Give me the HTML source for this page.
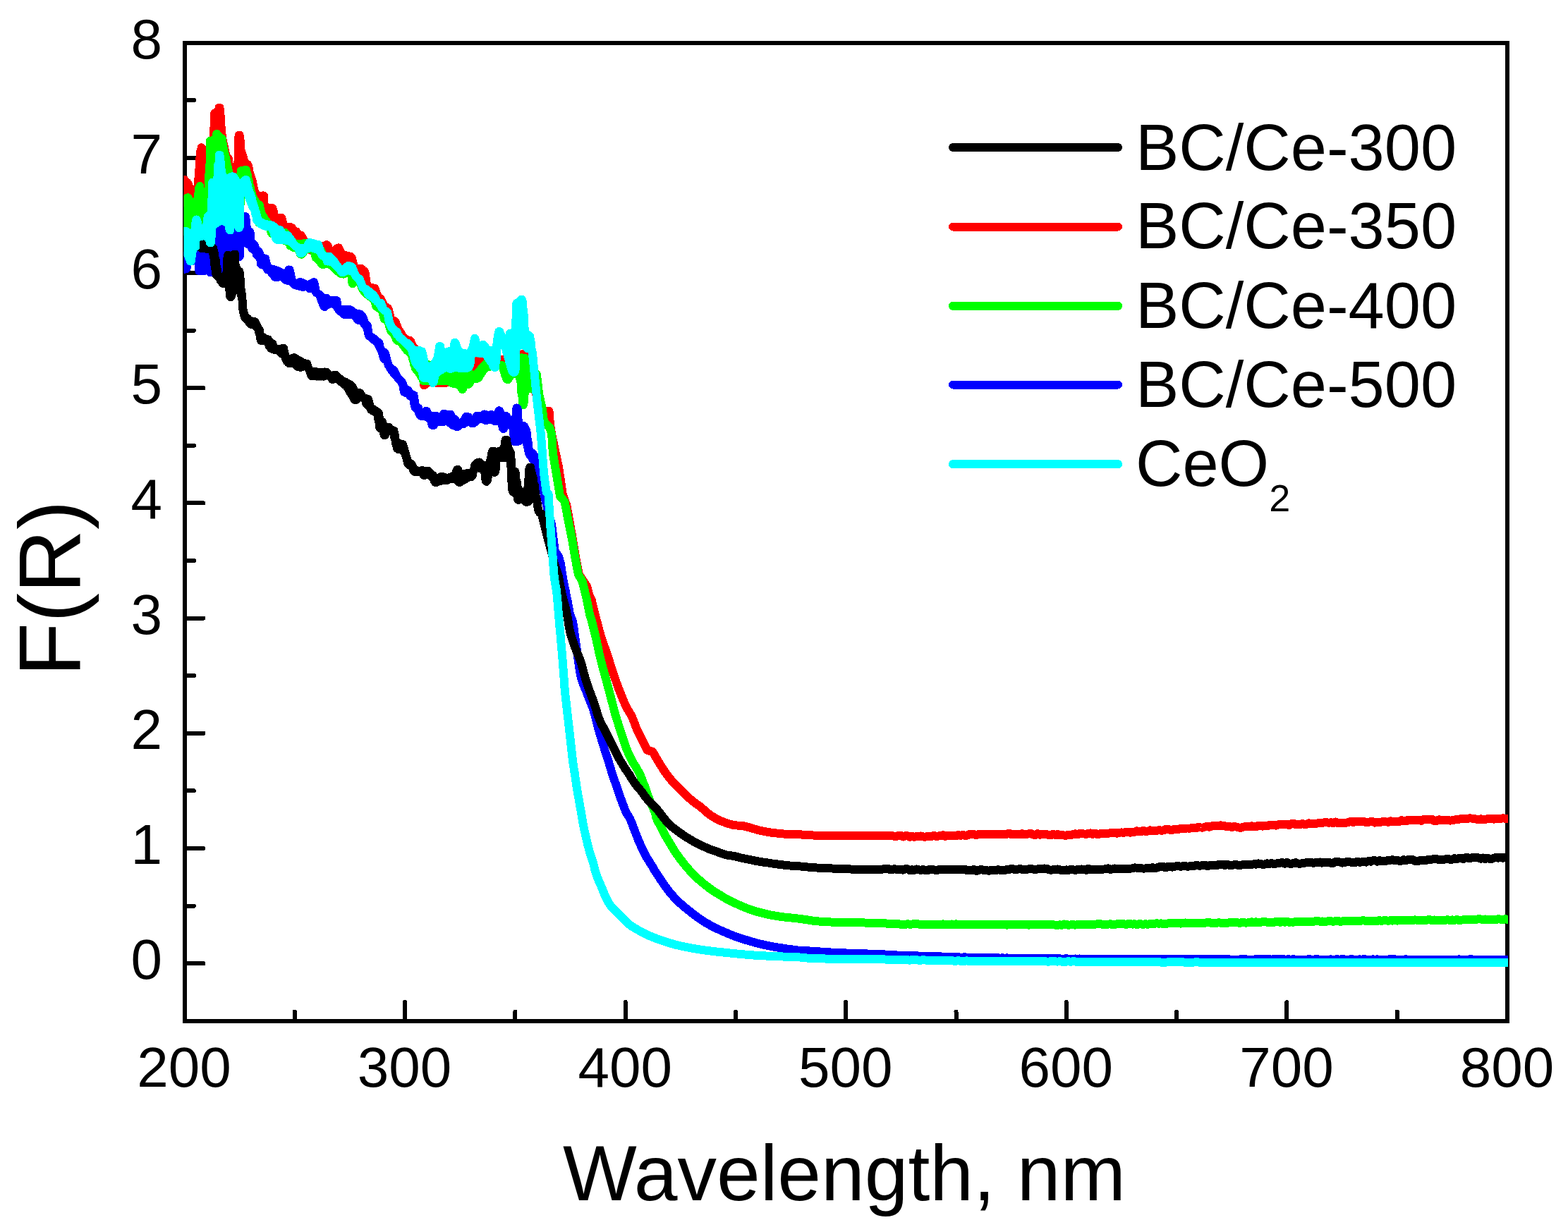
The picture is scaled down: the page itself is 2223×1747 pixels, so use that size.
<!DOCTYPE html>
<html lang="en">
<head>
<meta charset="utf-8">
<title>F(R) vs Wavelength</title>
<style>
html,body{margin:0;padding:0;background:#fff;}
body{width:2223px;height:1747px;overflow:hidden;}
svg{display:block;}
text{font-family:'Liberation Sans', Arial, Helvetica, sans-serif;fill:#000;}
.tick{font-size:80px;}
.leg{font-size:92px;}
.curve{fill:none;stroke-width:12;stroke-linejoin:round;stroke-linecap:round;shape-rendering:crispEdges;}
</style>
</head>
<body>
<svg width="2223" height="1747" viewBox="0 0 2223 1747">
<rect width="2223" height="1747" fill="#fff"/>
<defs><clipPath id="plot"><rect x="260.5" y="58" width="1877.5" height="1393"/></clipPath></defs>
<rect x="261.5" y="61.0" width="1875.5" height="1387.0" fill="none" stroke="#000" stroke-width="6" shape-rendering="crispEdges"/>
<path d="M417.8 1445.0V1434.5M574.1 1445.0V1421.0M730.4 1445.0V1434.5M886.7 1445.0V1421.0M1043.0 1445.0V1434.5M1199.2 1445.0V1421.0M1355.5 1445.0V1434.5M1511.8 1445.0V1421.0M1668.1 1445.0V1434.5M1824.4 1445.0V1421.0M1980.7 1445.0V1434.5M264.5 1366.2H288.5M264.5 1284.6H275.0M264.5 1203.0H288.5M264.5 1121.4H275.0M264.5 1039.8H288.5M264.5 958.2H275.0M264.5 876.6H288.5M264.5 795.0H275.0M264.5 713.4H288.5M264.5 631.8H275.0M264.5 550.2H288.5M264.5 468.6H275.0M264.5 387.0H288.5M264.5 305.4H275.0M264.5 223.8H288.5M264.5 142.2H275.0" fill="none" stroke="#000" stroke-width="6" stroke-linecap="round" shape-rendering="crispEdges"/>
<g clip-path="url(#plot)">
<path class="curve" stroke="#ff0000" d="M261.5 254.7L261.5 287.2L262.5 287.2L262.5 256.4L263.6 257.4L263.6 287.2L264.6 287.2L264.6 258.2L265.7 258.9L265.7 287.2L266.7 287.2L266.7 260.7L267.8 263.7L267.8 287.2L268.8 287.2L268.8 265.9L269.8 266.9L269.8 287.2L270.9 287.2L270.9 267.7L271.9 268.4L271.9 287.2L273.0 287.2L273.0 268.7L274.0 268.9L274.0 287.2L275.0 287.2L275.0 268.9L276.1 268.9L276.1 287.4L277.1 287.4L277.1 268.7L278.2 268.2L278.2 287.9L279.2 288.4L279.2 267.2L280.3 265.4L280.3 289.4L281.3 291.4L281.3 254.9L282.3 240.4L282.3 293.9L283.4 293.9L283.4 224.7L284.4 213.7L284.4 293.9L285.5 293.9L285.5 209.2L286.5 209.9L286.5 293.9L287.5 293.9L287.5 258.9L288.6 261.2L288.6 277.4L289.6 262.2L290.7 262.9L291.7 263.2L292.8 263.2L293.8 263.4L294.8 263.4L295.9 263.4L296.9 263.2L298.0 263.2L299.0 262.7L300.1 261.9L301.1 260.7L302.1 252.4L302.1 239.9L303.2 181.7L303.2 252.4L304.2 252.4L304.2 160.7L305.3 159.9L305.3 252.4L306.3 252.4L306.3 159.4L307.3 158.9L307.3 252.4L308.4 252.4L308.4 157.7L309.4 155.9L309.4 252.4L310.5 252.4L310.5 152.9L311.5 152.7L311.5 252.4L312.6 252.4L312.6 163.2L313.6 180.4L313.6 252.4L314.6 252.4L314.6 190.4L315.7 198.4L315.7 252.4L316.7 252.4L316.7 203.2L317.8 207.9L317.8 252.4L318.8 252.4L318.8 212.7L319.8 217.7L319.8 252.4L320.9 252.4L320.9 221.4L321.9 223.4L321.9 252.4L323.0 252.4L323.0 224.4L324.0 225.2L324.0 252.4L325.1 252.4L325.1 236.9L326.1 240.2L326.1 252.4L327.1 252.4L327.1 241.4L328.2 242.2L328.2 252.4L329.2 252.4L329.2 242.7L330.3 242.7L330.3 252.4L331.3 252.2L331.3 242.7L332.4 242.7L332.4 251.2L333.4 250.2L333.4 241.9L334.4 241.2L334.4 249.2L335.5 248.2L335.5 239.9L336.5 231.2L336.5 247.2L337.6 246.4L337.6 206.9L338.6 191.7L338.6 245.9L339.6 245.9L339.6 191.7L340.7 199.2L340.7 245.7L341.7 245.9L341.7 213.9L342.8 216.9L342.8 245.9L343.8 246.2L343.8 219.9L344.9 223.2L344.9 246.2L345.9 246.2L345.9 226.9L346.9 229.9L346.9 246.4L348.0 246.4L348.0 231.2L349.0 232.2L349.0 246.4L350.1 246.7L350.1 232.7L351.1 233.2L351.1 246.7L352.1 246.9L352.1 235.4L353.2 240.7L353.2 246.9L354.2 247.2L354.2 245.7L355.3 248.9L356.3 252.2L357.4 255.4L358.4 259.7L359.4 264.7L360.5 269.9L361.5 273.9L362.6 275.4L363.6 276.4L364.7 277.3L365.7 277.4L365.7 282.2L366.7 285.2L366.7 277.4L367.8 277.7L367.8 288.2L368.8 290.2L368.8 277.9L369.9 277.7L369.9 292.2L370.9 293.9L370.9 277.7L371.9 277.7L371.9 295.7L373.0 297.2L373.0 277.4L374.0 277.7L374.0 298.7L375.1 299.9L375.1 290.9L376.1 293.2L376.1 301.9L377.2 303.2L377.2 294.4L378.2 294.9L378.2 304.7L379.2 306.2L379.2 295.2L380.3 295.2L380.3 307.7L381.3 308.9L381.3 295.2L382.4 295.2L382.4 310.9L383.4 312.2L383.4 294.9L384.4 294.9L384.4 313.4L385.5 314.4L385.5 294.9L386.5 295.2L386.5 315.4L387.6 316.4L387.6 299.4L388.6 304.2L388.6 317.7L389.7 318.7L389.7 306.9L390.7 307.9L390.7 319.7L391.7 320.7L391.7 308.4L392.8 308.9L392.8 321.7L393.8 322.7L393.8 308.9L394.9 308.9L394.9 323.9L395.9 324.9L395.9 308.9L397.0 308.7L397.0 325.9L398.0 326.9L398.0 308.7L399.0 308.7L399.0 327.9L400.1 328.9L400.1 311.9L401.1 316.7L401.1 330.2L402.2 331.2L402.2 319.4L403.2 320.4L403.2 332.2L404.2 333.2L404.2 320.9L405.3 321.4L405.3 334.2L406.3 335.2L406.3 321.4L407.4 321.7L407.4 336.4L408.4 337.4L408.4 321.7L409.5 321.7L409.5 338.2L410.5 338.7L410.5 321.7L411.5 321.9L411.5 339.2L412.6 339.7L412.6 322.4L413.6 322.9L413.6 340.4L414.7 340.9L414.7 324.7L415.7 326.2L415.7 341.4L416.7 341.9L416.7 327.2L417.8 327.7L417.8 342.4L418.8 342.9L418.8 328.2L419.9 328.4L419.9 343.7L420.9 344.2L420.9 329.2L422.0 330.9L422.0 344.7L423.0 345.2L423.0 331.9L424.0 332.7L424.0 345.7L425.1 346.2L425.1 333.2L426.1 333.4L426.1 346.9L427.2 347.4L427.2 334.4L428.2 336.2L428.2 347.9L429.3 348.4L429.3 338.2L430.3 340.2L430.3 348.9L431.3 349.4L431.3 341.7L432.4 342.7L432.4 350.2L433.4 350.7L433.4 343.2L434.5 343.7L434.5 351.2L435.5 351.9L435.5 343.9L436.5 344.4L436.5 352.4L437.6 352.9L437.6 344.7L438.6 344.9L438.6 353.7L439.7 354.2L439.7 345.4L440.7 345.7L440.7 354.7L441.8 355.2L441.8 346.2L442.8 346.4L442.8 355.9L443.8 356.4L443.8 346.4L444.9 346.7L444.9 356.9L445.9 357.7L445.9 346.9L447.0 347.2L447.0 358.2L448.0 358.7L448.0 347.4L449.0 347.4L449.0 359.2L450.1 359.7L450.1 347.7L451.1 347.9L451.1 360.4L452.2 360.9L452.2 348.2L453.2 348.4L453.2 361.7L454.3 362.2L454.3 348.7L455.3 348.7L455.3 362.7L456.3 363.2L456.3 348.9L457.4 348.9L457.4 363.9L458.4 364.4L458.4 348.9L459.5 348.7L459.5 364.9L460.5 365.4L460.5 348.2L461.6 347.9L461.6 365.9L462.6 366.2L462.6 347.4L463.6 347.2L463.6 366.7L464.7 367.2L464.7 348.9L465.7 351.9L465.7 367.7L466.8 367.9L466.8 354.4L467.8 355.7L467.8 368.4L468.8 368.9L468.8 356.4L469.9 356.9L469.9 369.4L470.9 369.7L470.9 356.9L472.0 356.9L472.0 370.2L473.0 370.7L473.0 356.7L474.1 356.2L474.1 370.9L475.1 371.4L475.1 355.4L476.1 353.9L476.1 371.9L477.2 372.4L477.2 352.9L478.2 351.9L478.2 372.7L479.3 373.2L479.3 351.4L480.3 351.4L480.3 373.7L481.3 373.9L481.3 353.9L482.4 356.4L482.4 374.4L483.4 374.9L483.4 358.9L484.5 359.9L484.5 375.4L485.5 375.7L485.5 360.7L486.6 361.2L486.6 376.2L487.6 376.7L487.6 361.4L488.6 361.7L488.6 377.2L489.7 377.4L489.7 362.2L490.7 362.4L490.7 377.7L491.8 377.9L491.8 362.7L492.8 362.9L492.8 378.2L493.9 378.4L493.9 363.2L494.9 363.4L494.9 378.7L495.9 378.9L495.9 363.7L497.0 363.9L497.0 379.2L498.0 379.4L498.0 365.2L499.1 366.4L499.1 379.7L500.1 379.9L500.1 370.4L501.1 375.7L501.1 380.2L502.2 380.7L502.2 378.4L503.2 379.4L503.2 381.4L504.3 382.4L504.3 379.9L505.3 380.4L505.3 384.4L506.4 387.9L506.4 380.4L507.4 380.7L507.4 390.4L508.4 393.2L508.4 380.7L509.5 380.7L509.5 395.9L510.5 395.9L510.5 380.7L511.6 380.7L511.6 395.9L512.6 395.9L512.6 380.9L513.6 382.2L513.6 396.2L514.7 396.2L514.7 383.2L515.7 383.9L515.7 396.4L516.8 396.9L516.8 384.9L517.8 388.2L517.8 397.9L518.9 398.9L518.9 395.4L519.9 403.2L520.9 405.4L522.0 406.4L523.0 406.9L524.1 407.4L525.1 407.7L526.2 407.9L527.2 408.4L528.2 408.4L528.2 415.7L529.3 422.9L529.3 408.4L530.3 408.7L530.3 423.9L531.4 424.2L531.4 408.9L532.4 411.7L532.4 424.4L533.4 424.7L533.4 414.4L534.5 417.2L534.5 424.7L535.5 424.9L535.5 419.7L536.6 421.2L536.6 425.4L537.6 425.9L537.6 422.2L538.7 422.9L538.7 426.9L539.7 428.2L539.7 423.7L540.7 425.4L540.7 430.7L541.8 433.4L541.8 427.7L542.8 429.7L542.8 436.2L543.9 439.4L543.9 431.9L544.9 433.7L544.9 440.4L545.9 441.2L545.9 434.4L547.0 435.2L547.0 441.9L548.0 442.9L548.0 435.9L549.1 436.7L549.1 444.7L550.1 447.4L550.1 437.4L551.2 439.7L551.2 449.7L552.2 451.9L552.2 444.2L553.2 448.7L553.2 452.9L554.3 453.7L554.3 451.7L555.3 452.9L555.3 454.2L556.4 455.2L556.4 453.9L557.4 454.4L557.4 455.9L558.5 456.7L558.5 454.9L559.5 455.4L559.5 457.9L560.5 460.4L560.5 456.2L561.6 458.7L561.6 464.9L562.6 470.4L562.6 461.4L563.7 464.4L563.7 471.9L564.7 472.4L564.7 466.9L565.7 468.4L565.7 472.9L566.8 473.4L566.8 469.9L567.8 471.4L567.8 474.4L568.9 475.9L568.9 473.2L569.9 474.9L569.9 478.4L571.0 480.9L571.0 476.4L572.0 477.9L572.0 483.7L573.0 486.2L573.0 479.4L574.1 480.7L574.1 488.4L575.1 490.2L575.1 481.4L576.2 481.9L576.2 491.7L577.2 493.2L577.2 482.2L578.2 482.4L578.2 494.9L579.3 496.4L579.3 482.4L580.3 482.7L580.3 497.9L581.4 498.2L581.4 482.9L582.4 484.4L582.4 498.4L583.5 498.4L583.5 486.9L584.5 489.4L584.5 498.7L585.5 498.9L585.5 491.7L586.6 492.9L586.6 499.2L587.6 499.7L587.6 493.9L588.7 500.9L589.7 509.2L590.8 517.4L591.8 524.7L592.8 526.9L593.9 527.9L594.9 528.7L596.0 528.9L597.0 528.9L598.0 528.9L599.1 528.7L599.1 530.4L600.1 540.2L600.1 528.4L601.2 528.2L601.2 546.4L602.2 545.7L602.2 528.2L603.3 527.9L603.3 543.9L604.3 542.9L604.3 527.7L605.3 527.4L605.3 542.4L606.4 541.9L606.4 527.2L607.4 527.2L607.4 541.9L608.5 541.9L608.5 526.9L609.5 526.7L609.5 541.9L610.5 541.9L610.5 526.4L611.6 526.2L611.6 542.2L612.6 542.2L612.6 525.7L613.7 524.9L613.7 542.2L614.7 542.4L614.7 523.7L615.8 521.4L615.8 542.4L616.8 542.4L616.8 517.2L617.8 516.2L617.8 542.7L618.9 542.7L618.9 516.9L619.9 518.4L619.9 542.9L621.0 542.9L621.0 519.4L622.0 520.2L622.0 542.9L623.1 543.2L623.1 520.7L624.1 521.2L624.1 543.2L625.1 543.2L625.1 521.4L626.2 521.9L626.2 543.2L627.2 543.2L627.2 522.4L628.3 522.7L628.3 543.2L629.3 543.2L629.3 523.2L630.3 523.7L630.3 543.2L631.4 543.2L631.4 523.9L632.4 524.4L632.4 540.9L633.5 539.2L633.5 524.9L634.5 525.2L634.5 537.9L635.6 537.2L635.6 525.7L636.6 526.2L636.6 536.7L637.6 536.4L637.6 526.2L638.7 526.4L638.7 536.2L639.7 536.2L639.7 526.4L640.8 526.4L640.8 536.2L641.8 536.2L641.8 526.4L642.8 526.4L642.8 536.2L643.9 536.2L643.9 526.4L644.9 526.4L644.9 536.2L646.0 536.2L646.0 526.4L647.0 526.4L647.0 536.2L648.1 536.2L648.1 526.4L649.1 526.4L649.1 536.2L650.1 536.2L650.1 526.4L651.2 526.4L651.2 536.2L652.2 536.2L652.2 526.4L653.3 526.4L653.3 536.2L654.3 536.2L654.3 526.4L655.4 526.4L655.4 536.2L656.4 536.2L656.4 526.4L657.4 526.4L657.4 536.2L658.5 536.2L658.5 526.4L659.5 526.4L659.5 536.2L660.6 536.2L660.6 526.4L661.6 526.4L661.6 536.2L662.6 536.2L662.6 526.4L663.7 526.4L663.7 536.2L664.7 535.4L664.7 526.4L665.8 526.2L665.8 534.2L666.8 533.2L666.8 526.2L667.9 525.7L667.9 532.2L668.9 531.2L668.9 524.9L669.9 523.9L669.9 530.2L671.0 529.7L671.0 522.2L672.0 519.9L672.0 529.2L673.1 529.2L673.1 517.7L674.1 514.7L674.1 528.9L675.1 528.7L675.1 512.4L676.2 511.2L676.2 528.4L677.2 528.2L677.2 511.2L678.3 511.4L678.3 528.2L679.3 527.9L679.3 511.4L680.4 511.7L680.4 527.7L681.4 527.4L681.4 511.9L682.4 511.9L682.4 527.2L683.5 526.9L683.5 512.2L684.5 512.4L684.5 525.4L685.6 523.7L685.6 513.4L686.6 514.4L686.6 522.2L687.7 520.2L687.7 515.7L688.7 516.7L688.7 518.4L689.7 517.7L690.8 518.4L691.8 518.9L692.9 519.2L693.9 519.2L694.9 519.2L696.0 518.7L697.0 518.2L698.1 517.7L699.1 516.9L700.2 516.4L701.2 515.9L702.2 515.7L703.3 515.2L704.3 514.7L705.4 513.9L706.4 513.4L707.4 512.9L708.5 512.7L709.5 511.9L709.5 513.4L710.6 513.9L710.6 511.4L711.6 510.2L711.6 514.7L712.7 515.4L712.7 509.7L713.7 511.4L713.7 516.2L714.7 516.9L714.7 513.2L715.8 514.7L715.8 518.2L716.8 519.4L716.8 515.7L717.9 516.2L717.9 521.2L718.9 522.4L718.9 516.4L720.0 516.4L720.0 523.7L721.0 525.2L721.0 516.4L722.0 515.9L722.0 526.4L723.1 527.4L723.1 515.4L724.1 514.9L724.1 527.7L725.2 528.2L725.2 514.4L726.2 513.9L726.2 528.4L727.2 527.9L727.2 513.4L728.3 512.9L728.3 526.9L729.3 526.2L729.3 512.4L730.4 511.7L730.4 525.2L731.4 523.9L731.4 510.9L732.5 509.9L732.5 522.9L733.5 522.2L733.5 508.9L734.5 507.9L734.5 521.2L735.6 520.2L735.6 506.9L736.6 505.7L736.6 519.4L737.7 518.2L737.7 504.7L738.7 503.9L738.7 517.4L739.7 516.4L739.7 503.2L740.8 502.4L740.8 515.9L741.8 515.7L741.8 501.9L744.0 504.4L749.5 518.2L756.4 545.8L763.3 570.7L768.8 584.5L778.5 582.8L779.9 601.1L782.2 616.0L786.7 637.5L792.2 663.3L797.7 700.2L803.3 716.8L807.0 737.0L811.6 762.9L816.2 790.5L820.8 814.5L831.9 831.1L836.5 847.7L838.5 850.0L839.4 853.9L840.4 857.8L841.3 861.7L842.3 865.6L843.3 869.5L844.2 873.4L845.2 877.3L846.3 881.2L847.3 885.1L848.3 889.0L849.3 892.8L850.4 896.7L851.5 900.6L852.6 904.4L853.8 908.2L855.1 912.0L856.5 915.8L857.9 919.6L859.2 923.4L860.6 927.2L861.8 931.0L863.0 934.8L864.2 938.6L865.5 942.5L866.7 946.3L867.9 950.1L869.2 953.9L870.5 957.7L871.8 961.5L873.1 965.3L874.4 969.1L875.8 972.9L877.2 976.6L878.7 980.4L880.1 984.1L881.6 987.9L883.1 991.6L884.7 995.3L886.4 999.0L888.1 1002.6L890.0 1006.1L892.1 1009.6L894.1 1013.0L896.0 1016.6L897.5 1020.2L899.0 1024.0L900.4 1027.8L901.8 1031.5L903.4 1035.2L905.2 1038.8L907.0 1042.4L908.8 1046.0L910.6 1049.6L912.4 1053.1L914.2 1056.7L916.0 1060.3L917.8 1063.9L925.2 1065.8L932.6 1078.7L933.6 1080.0L935.7 1083.5L937.8 1087.0L940.0 1090.5L942.3 1093.9L944.7 1097.2L947.2 1100.5L949.7 1103.7L952.3 1106.9L955.1 1109.9L958.0 1112.8L960.9 1115.6L963.9 1118.5L966.8 1121.4L969.7 1124.3L972.5 1127.2L975.4 1130.1L978.4 1132.9L981.5 1135.6L984.8 1138.1L988.1 1140.5L991.4 1142.9L994.6 1145.4L997.8 1148.1L1000.9 1150.8L1004.0 1153.5L1007.2 1155.9L1010.7 1158.2L1014.2 1160.3L1017.8 1162.2L1021.5 1163.9L1025.4 1165.4L1029.2 1166.8L1033.1 1168.1L1037.0 1169.3L1041.0 1170.3L1052.5 1170.9L1056.4 1171.9L1060.4 1172.8L1064.3 1173.9L1068.2 1175.1L1072.1 1176.3L1076.0 1177.4L1079.9 1178.2L1083.9 1179.0L1087.9 1179.7L1091.9 1180.4L1095.9 1180.9L1100.0 1181.4L1104.0 1181.9L1108.0 1182.3L1112.1 1182.6L1116.1 1182.8L1120.2 1183.0L1124.3 1183.1L1128.3 1183.2L1132.4 1183.3L1136.4 1183.5L1140.5 1183.8L1144.5 1184.0L1148.6 1184.3L1152.6 1184.5L1156.7 1184.7L1160.7 1184.9L1164.8 1185.0L1168.8 1185.2L1172.9 1185.3L1177.0 1185.3L1181.0 1185.4L1185.1 1185.4L1189.1 1185.4L1193.2 1185.4L1197.2 1185.4L1201.3 1185.4L1205.4 1185.4L1209.4 1185.4L1213.5 1185.4L1217.5 1185.4L1221.6 1185.4L1225.7 1185.3L1229.7 1185.3L1233.8 1185.3L1237.8 1185.2L1241.9 1185.1L1245.9 1185.1L1250.0 1185.0L1258.6 1184.9L1261.8 1185.5L1264.9 1185.3L1268.0 1185.8L1271.1 1185.9L1274.3 1184.8L1277.4 1184.8L1280.5 1186.5L1283.6 1185.4L1286.8 1185.4L1289.9 1187.0L1293.0 1186.0L1296.1 1186.8L1299.3 1186.2L1302.4 1186.5L1305.5 1185.5L1308.6 1186.4L1311.8 1186.7L1314.9 1186.0L1318.0 1186.3L1321.1 1186.0L1324.3 1184.7L1327.4 1186.0L1330.5 1185.6L1333.6 1184.9L1336.8 1184.2L1339.9 1185.8L1343.0 1184.9L1346.2 1185.2L1349.3 1185.4L1352.4 1185.0L1355.5 1185.3L1358.7 1184.1L1361.8 1184.8L1364.9 1184.0L1368.0 1184.8L1371.2 1184.6L1374.3 1182.9L1377.4 1182.8L1380.5 1182.9L1383.7 1184.2L1386.8 1183.1L1389.9 1183.4L1393.0 1182.7L1396.2 1183.1L1399.3 1182.8L1402.4 1182.6L1405.5 1183.0L1408.7 1183.0L1411.8 1183.5L1414.9 1183.0L1418.0 1183.5L1421.2 1183.3L1424.3 1183.5L1427.4 1182.8L1430.5 1181.7L1433.7 1183.1L1436.8 1183.4L1439.9 1183.3L1443.1 1182.7L1446.2 1183.0L1449.3 1182.1L1452.4 1183.3L1455.6 1182.9L1458.7 1182.3L1461.8 1181.9L1464.9 1183.6L1468.1 1183.9L1471.2 1182.2L1474.3 1183.7L1477.4 1183.0L1480.6 1182.6L1483.7 1183.0L1486.8 1184.0L1489.9 1184.3L1493.1 1182.8L1496.2 1184.0L1499.3 1182.9L1502.4 1184.4L1505.6 1183.6L1508.7 1184.6L1511.8 1184.6L1514.9 1183.6L1518.1 1184.4L1521.2 1182.9L1524.3 1182.3L1527.4 1183.3L1530.6 1182.0L1533.7 1182.2L1536.8 1182.5L1540.0 1182.8L1543.1 1181.8L1546.2 1181.4L1549.3 1182.9L1552.5 1181.7L1555.6 1182.9L1558.7 1182.6L1561.8 1181.5L1565.0 1181.5L1568.1 1181.5L1571.2 1181.6L1574.3 1181.4L1577.5 1181.2L1580.6 1181.2L1583.7 1181.7L1586.8 1180.7L1590.0 1180.4L1593.1 1180.9L1596.2 1179.7L1599.3 1179.6L1602.5 1180.8L1605.6 1179.7L1608.7 1179.6L1611.8 1178.3L1615.0 1178.9L1618.1 1179.1L1621.2 1177.8L1624.3 1178.8L1627.5 1178.6L1630.6 1177.3L1633.7 1178.2L1636.9 1177.7L1640.0 1177.9L1643.1 1177.1L1646.2 1177.6L1649.4 1177.5L1652.5 1175.8L1655.6 1175.7L1658.7 1176.7L1661.9 1177.1L1665.0 1175.5L1668.1 1175.7L1671.2 1175.7L1674.4 1175.0L1677.5 1174.9L1680.6 1174.6L1683.7 1174.5L1686.9 1174.7L1690.0 1173.9L1693.1 1173.9L1696.2 1174.4L1699.4 1172.7L1702.5 1173.5L1705.6 1173.5L1708.7 1172.4L1711.9 1171.9L1715.0 1172.7L1718.1 1171.3L1721.2 1170.9L1724.4 1171.1L1727.5 1171.3L1730.6 1170.3L1733.8 1171.0L1736.9 1171.3L1740.0 1172.5L1743.1 1171.9L1746.3 1173.0L1749.4 1171.9L1752.5 1172.5L1755.6 1173.3L1758.8 1173.9L1761.9 1172.8L1765.0 1172.1L1768.1 1171.7L1771.3 1172.3L1774.4 1171.4L1777.5 1172.5L1780.6 1172.3L1783.8 1170.8L1786.9 1170.8L1790.0 1171.6L1793.1 1171.1L1796.3 1171.3L1799.4 1170.2L1802.5 1169.6L1805.6 1169.8L1808.8 1170.6L1811.9 1169.4L1815.0 1169.4L1818.1 1169.4L1821.3 1169.2L1824.4 1169.1L1827.5 1169.9L1830.7 1168.3L1833.8 1167.8L1836.9 1169.5L1840.0 1169.2L1843.2 1169.3L1846.3 1168.1L1849.4 1169.0L1852.5 1168.8L1855.7 1167.3L1858.8 1168.2L1861.9 1168.3L1865.0 1167.8L1868.2 1167.4L1871.3 1166.8L1874.4 1166.8L1877.5 1166.4L1880.7 1166.0L1883.8 1166.9L1886.9 1166.2L1890.0 1167.1L1893.2 1165.5L1896.3 1167.1L1899.4 1166.6L1902.5 1166.9L1905.7 1166.8L1908.8 1166.7L1911.9 1165.9L1915.0 1164.7L1918.2 1166.0L1921.3 1164.8L1924.4 1164.9L1927.6 1165.5L1930.7 1165.2L1933.8 1165.1L1936.9 1166.3L1940.1 1165.7L1943.2 1165.3L1946.3 1165.3L1949.4 1166.6L1952.6 1166.0L1955.7 1166.4L1958.8 1165.4L1961.9 1164.9L1965.1 1165.4L1968.2 1165.8L1971.3 1164.3L1974.4 1165.3L1977.6 1165.4L1980.7 1165.0L1983.8 1164.8L1986.9 1163.0L1990.1 1164.2L1993.2 1164.5L1996.3 1162.8L1999.4 1163.2L2002.6 1163.1L2005.7 1163.5L2008.8 1163.2L2011.9 1163.3L2015.1 1163.8L2018.2 1162.2L2021.3 1162.2L2024.5 1162.3L2027.6 1162.3L2030.7 1162.2L2033.8 1164.1L2037.0 1163.8L2040.1 1162.3L2043.2 1163.2L2046.3 1162.8L2049.5 1162.8L2052.6 1162.9L2055.7 1163.6L2058.8 1163.4L2062.0 1162.6L2065.1 1161.9L2068.2 1161.8L2071.3 1161.0L2074.5 1161.4L2077.6 1161.4L2080.7 1160.8L2083.8 1160.3L2087.0 1160.6L2090.1 1161.1L2093.2 1161.6L2096.3 1162.1L2099.5 1161.3L2102.6 1162.3L2105.7 1161.8L2108.8 1161.3L2112.0 1161.1L2115.1 1161.3L2118.2 1161.6L2121.4 1160.9L2124.5 1161.4L2127.6 1160.8L2130.7 1160.3L2133.9 1160.8L2137.0 1161.0"/>
<path class="curve" stroke="#00ff00" d="M261.5 283.9L261.5 328.4L262.5 328.4L262.5 283.4L263.6 282.9L263.6 328.4L264.6 328.4L264.6 281.7L265.7 280.4L265.7 328.4L266.7 328.4L266.7 280.4L267.8 282.7L267.8 328.4L268.8 328.4L268.8 284.7L269.8 286.4L269.8 328.4L270.9 328.4L270.9 287.7L271.9 288.7L271.9 328.4L273.0 328.4L273.0 289.2L274.0 289.2L274.0 328.4L275.0 328.4L275.0 289.2L276.1 288.9L276.1 328.4L277.1 328.4L277.1 288.4L278.2 287.4L278.2 328.4L279.2 328.4L279.2 286.2L280.3 281.7L280.3 328.4L281.3 328.4L281.3 275.4L282.3 266.2L282.3 328.4L283.4 328.4L283.4 263.9L284.4 288.9L284.4 328.4L285.5 328.4L285.5 290.7L286.5 291.7L286.5 328.4L287.5 328.4L287.5 292.2L288.6 292.4L288.6 328.4L289.6 328.4L289.6 292.4L290.7 292.4L290.7 328.4L291.7 301.7L291.7 292.2L292.8 291.7L292.8 296.7L293.8 295.4L293.8 290.9L294.8 289.7L294.8 294.7L295.9 294.2L295.9 262.7L296.9 234.9L296.9 294.2L298.0 293.9L298.0 199.7L299.0 199.7L299.0 293.9L300.1 293.9L300.1 199.4L301.1 199.2L301.1 293.9L302.1 293.9L302.1 198.9L303.2 198.4L303.2 293.9L304.2 293.9L304.2 197.9L305.3 196.9L305.3 293.9L306.3 293.9L306.3 194.7L307.3 189.9L307.3 293.9L308.4 293.9L308.4 191.2L309.4 192.9L309.4 293.9L310.5 293.9L310.5 193.7L311.5 194.4L311.5 293.9L312.6 293.9L312.6 195.2L313.6 195.9L313.6 293.9L314.6 293.9L314.6 196.4L315.7 203.7L315.7 293.9L316.7 293.9L316.7 209.9L317.8 214.7L317.8 293.9L318.8 293.9L318.8 218.9L319.8 223.4L319.8 293.9L320.9 293.9L320.9 227.7L321.9 233.2L321.9 293.9L323.0 293.9L323.0 237.4L324.0 243.4L324.0 293.9L325.1 293.9L325.1 247.2L326.1 248.4L326.1 293.9L327.1 293.9L327.1 249.2L328.2 249.9L328.2 293.9L329.2 293.9L329.2 250.7L330.3 251.2L330.3 293.9L331.3 293.9L331.3 251.9L332.4 252.7L332.4 293.9L333.4 293.9L333.4 253.2L334.4 253.4L334.4 293.9L335.5 293.9L335.5 253.4L336.5 253.4L336.5 293.9L337.6 293.9L337.6 252.9L338.6 252.4L338.6 293.9L339.6 293.9L339.6 250.9L340.7 248.2L340.7 289.9L341.7 271.9L341.7 242.2L342.8 242.2L342.8 269.7L343.8 268.7L343.8 242.2L344.9 241.9L344.9 268.2L345.9 267.7L345.9 241.7L346.9 241.2L346.9 267.7L348.0 267.7L348.0 240.9L349.0 241.2L349.0 268.2L350.1 268.7L350.1 245.2L351.1 249.2L351.1 270.2L352.1 272.7L352.1 254.2L353.2 258.9L353.2 275.9L354.2 278.9L354.2 263.7L355.3 268.4L355.3 282.2L356.3 285.2L356.3 272.2L357.4 275.2L357.4 288.7L358.4 290.7L358.4 278.9L359.4 281.2L359.4 292.7L360.5 294.7L360.5 282.9L361.5 284.7L361.5 297.7L362.6 302.7L362.6 286.4L363.6 287.9L363.6 308.9L364.7 311.4L364.7 289.2L365.7 289.7L365.7 313.4L366.7 315.4L366.7 290.2L367.8 290.7L367.8 316.4L368.8 316.9L368.8 295.9L369.9 300.2L369.9 317.7L370.9 318.2L370.9 302.9L371.9 304.9L371.9 318.7L373.0 319.2L373.0 306.9L374.0 308.9L374.0 319.4L375.1 319.4L375.1 310.4L376.1 311.7L376.1 319.7L377.2 319.9L377.2 313.4L378.2 314.7L378.2 320.2L379.2 320.2L379.2 316.2L380.3 317.4L380.3 320.7L381.3 321.2L381.3 318.7L382.4 319.9L382.4 322.4L383.4 324.4L383.4 321.4L384.4 322.7L384.4 328.9L385.5 331.2L385.5 323.7L386.5 324.2L386.5 331.4L387.6 331.7L387.6 324.7L388.6 325.2L388.6 332.4L389.7 333.4L389.7 325.9L390.7 326.7L390.7 334.7L391.7 337.9L391.7 327.2L392.8 327.7L392.8 338.9L393.8 339.2L393.8 328.2L394.9 328.4L394.9 339.4L395.9 339.7L395.9 328.7L397.0 328.9L397.0 339.7L398.0 339.9L398.0 329.2L399.0 329.4L399.0 340.2L400.1 340.2L400.1 329.7L401.1 329.7L401.1 340.4L402.2 340.7L402.2 329.7L403.2 329.7L403.2 340.7L404.2 340.9L404.2 329.7L405.3 331.2L405.3 340.9L406.3 341.4L406.3 332.7L407.4 334.4L407.4 341.9L408.4 342.9L408.4 336.2L409.5 337.9L409.5 344.2L410.5 346.2L410.5 339.4L411.5 340.9L411.5 348.4L412.6 348.9L412.6 342.2L413.6 342.9L413.6 349.4L414.7 349.9L414.7 343.4L415.7 343.9L415.7 350.7L416.7 351.2L416.7 344.4L417.8 344.9L417.8 351.2L418.8 351.2L418.8 345.4L419.9 345.9L419.9 351.4L420.9 351.9L420.9 346.2L422.0 346.4L422.0 352.7L423.0 353.9L423.0 346.2L424.0 346.2L424.0 355.7L425.1 357.7L425.1 345.9L426.1 345.9L426.1 360.4L427.2 360.7L427.2 345.9L428.2 345.7L428.2 359.9L429.3 358.7L429.3 345.7L430.3 345.4L430.3 357.2L431.3 355.7L431.3 345.4L432.4 345.2L432.4 354.7L433.4 354.2L433.4 345.2L434.5 345.4L434.5 353.7L435.5 353.4L435.5 345.9L436.5 346.2L436.5 353.4L437.6 353.2L437.6 346.2L438.6 346.2L438.6 352.9L439.7 352.7L439.7 345.9L440.7 345.4L440.7 352.7L441.8 352.7L441.8 345.2L442.8 345.9L442.8 353.2L443.8 353.9L443.8 347.2L444.9 348.2L444.9 355.4L445.9 358.4L445.9 348.9L447.0 349.4L447.0 362.4L448.0 365.7L448.0 349.9L449.0 350.7L449.0 366.4L450.1 367.4L450.1 351.2L451.1 351.7L451.1 368.2L452.2 369.2L452.2 352.4L453.2 352.9L453.2 370.4L454.3 371.7L454.3 354.2L455.3 355.9L455.3 373.2L456.3 374.7L456.3 357.7L457.4 359.7L457.4 374.9L458.4 374.7L458.4 361.7L459.5 362.9L459.5 374.7L460.5 374.4L460.5 363.9L461.6 364.7L461.6 374.4L462.6 374.4L462.6 365.4L463.6 366.2L463.6 374.4L464.7 374.4L464.7 367.4L465.7 368.2L465.7 374.4L466.8 374.7L466.8 369.2L467.8 370.2L467.8 374.7L468.8 374.9L468.8 371.2L469.9 372.2L469.9 375.7L470.9 376.7L470.9 373.4L472.0 374.4L472.0 377.7L473.0 378.7L473.0 375.7L474.1 376.9L474.1 379.7L475.1 380.9L475.1 378.2L476.1 379.7L476.1 382.2L477.2 383.2L477.2 381.2L478.2 382.7L478.2 384.2L479.3 384.9L479.3 383.9L480.3 385.4L481.3 386.4L482.4 387.3L483.4 388.1L484.5 388.3L485.5 388.3L486.6 387.7L486.6 388.7L487.6 388.4L487.6 387.2L488.6 386.4L488.6 387.7L489.7 386.9L489.7 385.4L490.7 384.7L490.7 386.4L491.8 386.2L491.8 383.9L492.8 383.2L492.8 386.2L493.9 386.2L493.9 382.4L494.9 382.4L494.9 386.7L495.9 387.2L495.9 382.9L497.0 383.4L497.0 388.2L498.0 390.4L498.0 383.7L499.1 384.2L499.1 399.7L500.1 402.4L500.1 386.7L501.1 389.2L501.1 399.9L502.2 398.4L502.2 392.4L503.2 394.9L503.2 397.7L504.3 397.1L505.3 397.2L506.4 397.2L507.4 397.4L508.4 397.9L509.5 398.9L510.5 400.4L511.6 403.2L512.6 406.4L513.6 408.9L514.7 410.9L515.7 412.2L516.8 413.4L517.8 414.7L518.9 416.1L519.9 416.8L520.9 417.6L522.0 418.3L523.0 419.1L524.1 419.8L525.1 420.7L526.2 421.6L527.2 422.3L528.2 423.1L529.3 423.8L530.3 424.9L531.4 427.3L532.4 429.2L532.4 431.2L533.4 434.4L533.4 430.7L534.5 432.4L534.5 435.2L535.5 435.9L535.5 433.7L536.6 434.4L536.6 436.7L537.6 437.4L537.6 434.9L538.7 435.2L538.7 438.2L539.7 438.9L539.7 435.2L540.7 435.9L540.7 439.7L541.8 440.9L541.8 439.2L542.8 442.4L542.8 444.2L543.9 449.7L543.9 444.4L544.9 445.7L544.9 452.4L545.9 452.9L545.9 446.2L547.0 446.9L547.0 453.4L548.0 453.9L548.0 447.4L549.1 448.2L549.1 454.7L550.1 456.4L550.1 452.2L551.2 459.4L552.2 462.9L553.2 465.9L554.3 469.4L554.3 468.2L555.3 470.4L556.4 471.7L557.4 472.7L558.5 473.6L559.5 473.9L559.5 475.2L560.5 477.4L560.5 474.9L561.6 475.7L561.6 480.4L562.6 482.4L562.6 476.4L563.7 478.9L563.7 482.9L564.7 483.4L564.7 480.7L565.7 482.7L565.7 483.7L566.8 484.1L567.8 484.7L568.9 485.8L569.9 487.2L571.0 488.7L571.0 487.7L572.0 488.7L572.0 490.2L573.0 491.4L573.0 489.7L574.1 490.4L574.1 492.9L575.1 494.7L575.1 491.2L576.2 491.7L576.2 495.9L577.2 496.9L577.2 491.9L578.2 492.4L578.2 497.7L579.3 498.7L579.3 493.2L580.3 494.7L580.3 499.7L581.4 500.9L581.4 495.9L582.4 497.7L582.4 501.9L583.5 503.4L583.5 498.9L584.5 500.2L584.5 506.7L585.5 510.4L585.5 501.7L586.6 503.2L586.6 513.9L587.6 518.2L587.6 504.7L588.7 506.7L588.7 521.9L589.7 523.4L589.7 508.2L590.8 509.7L590.8 524.7L591.8 525.9L591.8 510.9L592.8 511.7L592.8 527.2L593.9 528.7L593.9 512.2L594.9 512.7L594.9 529.9L596.0 531.4L596.0 513.2L597.0 513.4L597.0 533.4L598.0 535.2L598.0 513.9L599.1 514.2L599.1 537.2L600.1 539.9L600.1 514.7L601.2 515.2L601.2 539.9L602.2 539.9L602.2 515.4L603.3 515.9L603.3 539.9L604.3 539.9L604.3 516.2L605.3 516.7L605.3 539.9L606.4 539.9L606.4 516.9L607.4 517.4L607.4 539.9L608.5 539.9L608.5 517.7L609.5 518.2L609.5 539.9L610.5 539.9L610.5 518.4L611.6 518.9L611.6 539.9L612.6 539.9L612.6 519.2L613.7 519.7L613.7 539.9L614.7 539.9L614.7 520.2L615.8 520.4L615.8 539.9L616.8 539.9L616.8 520.9L617.8 521.2L617.8 539.9L618.9 539.9L618.9 521.7L619.9 521.9L619.9 539.9L621.0 539.9L621.0 522.4L622.0 522.7L622.0 539.9L623.1 539.9L623.1 523.2L624.1 523.4L624.1 539.9L625.1 539.9L625.1 523.9L626.2 524.4L626.2 539.9L627.2 539.9L627.2 524.7L628.3 525.2L628.3 539.9L629.3 539.9L629.3 525.4L630.3 525.9L630.3 539.9L631.4 539.9L631.4 526.2L632.4 526.2L632.4 539.9L633.5 539.9L633.5 526.4L634.5 526.4L634.5 540.2L635.6 540.2L635.6 526.4L636.6 526.4L636.6 540.7L637.6 541.4L637.6 526.4L638.7 526.4L638.7 542.2L639.7 542.9L639.7 526.4L640.8 526.4L640.8 543.2L641.8 543.4L641.8 526.4L642.8 526.4L642.8 543.7L643.9 543.9L643.9 526.4L644.9 526.4L644.9 544.2L646.0 544.4L646.0 526.7L647.0 526.9L647.0 544.7L648.1 544.9L648.1 526.9L649.1 527.2L649.1 545.2L650.1 545.7L650.1 527.4L651.2 527.7L651.2 546.2L652.2 546.9L652.2 527.9L653.3 528.2L653.3 547.9L654.3 550.2L654.3 528.4L655.4 528.4L655.4 552.2L656.4 550.4L656.4 528.7L657.4 528.9L657.4 547.4L658.5 546.4L658.5 529.2L659.5 529.4L659.5 545.7L660.6 545.2L660.6 529.7L661.6 529.9L661.6 544.9L662.6 544.9L662.6 529.9L663.7 530.2L663.7 544.7L664.7 544.7L664.7 530.4L665.8 530.7L665.8 542.9L666.8 540.4L666.8 530.9L667.9 530.9L667.9 539.2L668.9 538.2L668.9 531.2L669.9 531.4L669.9 537.7L671.0 537.2L671.0 531.7L672.0 531.7L672.0 537.2L673.1 536.9L673.1 531.7L674.1 531.4L674.1 536.9L675.1 536.7L675.1 530.9L676.2 530.2L676.2 536.7L677.2 536.4L677.2 529.2L678.3 527.9L678.3 535.9L679.3 534.2L679.3 526.7L680.4 525.2L680.4 532.4L681.4 530.4L681.4 524.2L682.4 522.9L682.4 528.9L683.5 527.4L683.5 521.9L684.5 520.9L684.5 525.9L685.6 524.4L685.6 519.9L686.6 518.4L686.6 522.9L687.7 521.7L687.7 517.4L688.7 516.4L688.7 521.2L689.7 520.9L689.7 515.4L690.8 515.9L690.8 520.7L691.8 520.4L691.8 516.7L692.9 517.4L692.9 520.2L693.9 519.9L693.9 518.4L694.9 519.4L696.0 519.4L697.0 519.4L698.1 519.2L699.1 518.9L700.2 518.7L701.2 518.7L702.2 518.4L703.3 518.4L704.3 518.4L705.4 518.2L706.4 518.2L707.4 518.2L708.5 518.2L709.5 518.2L710.6 518.7L711.6 518.4L711.6 519.4L712.7 520.7L712.7 518.4L713.7 518.9L713.7 522.9L714.7 526.9L714.7 519.4L715.8 520.7L715.8 530.9L716.8 533.4L716.8 523.4L717.9 524.7L717.9 535.9L718.9 537.9L718.9 525.7L720.0 526.2L720.0 538.4L721.0 537.2L721.0 526.2L722.0 526.4L722.0 535.4L723.1 533.7L723.1 526.4L724.1 526.4L724.1 532.2L725.2 531.2L725.2 526.4L726.2 526.4L726.2 530.7L727.2 530.2L727.2 526.2L728.3 525.9L728.3 529.9L729.3 529.7L729.3 525.4L730.4 524.4L730.4 529.4L731.4 529.2L731.4 522.9L732.5 520.9L732.5 529.2L733.5 529.4L733.5 518.9L734.5 516.9L734.5 529.9L735.6 530.7L735.6 514.9L736.6 512.4L736.6 532.7L737.7 539.7L737.7 510.4L738.7 507.4L738.7 549.7L739.7 559.7L739.7 507.4L740.8 507.9L740.8 567.2L741.8 574.2L741.8 507.9L742.9 507.9L742.9 570.4L743.9 552.4L743.9 507.9L745.0 510.7L745.0 551.2L746.0 550.4L746.0 519.4L747.0 528.7L747.0 549.9L748.1 549.7L748.1 536.9L749.1 539.2L749.1 549.7L750.2 549.9L750.2 540.4L751.2 540.9L751.2 550.4L752.3 551.2L752.3 541.2L760.8 530.6L764.3 559.6L768.4 577.6L771.2 598.3L779.5 606.6L782.2 616.0L783.9 643.0L788.5 670.7L794.1 703.8L800.5 711.2L805.1 735.2L810.7 762.9L815.3 790.5L819.9 814.5L825.4 823.7L830.9 845.8L836.5 873.5L838.2 877.7L839.2 881.5L840.1 885.4L841.1 889.3L842.1 893.2L843.0 897.1L844.0 901.0L844.9 904.9L845.8 908.8L846.6 912.7L847.5 916.7L848.3 920.6L849.1 924.5L850.0 928.4L850.9 932.3L851.9 936.2L852.9 940.1L853.9 944.0L854.9 947.9L856.0 951.7L857.1 955.6L858.1 959.5L859.2 963.3L860.2 967.2L861.2 971.1L862.3 975.0L863.3 978.8L864.3 982.7L865.4 986.6L866.4 990.5L867.4 994.4L868.4 998.2L869.4 1002.1L870.4 1006.0L871.5 1009.9L872.5 1013.7L873.7 1017.6L874.8 1021.4L876.1 1025.2L877.3 1029.0L878.6 1032.9L879.8 1036.7L881.1 1040.5L882.3 1044.3L883.5 1048.1L884.7 1052.0L886.0 1055.8L887.3 1059.5L888.8 1063.3L890.4 1067.0L892.0 1070.6L893.8 1074.2L895.6 1077.8L897.5 1081.3L899.6 1084.7L901.8 1088.1L903.8 1091.6L905.7 1095.1L907.5 1098.7L909.1 1102.4L910.5 1106.1L912.0 1109.9L913.5 1113.6L915.0 1117.3L916.3 1121.1L917.6 1124.9L918.9 1128.7L920.2 1132.5L921.6 1136.2L923.3 1139.9L925.0 1143.5L926.6 1147.2L928.1 1150.9L929.3 1154.7L930.2 1158.7L931.5 1162.4L933.3 1166.0L935.3 1169.5L937.1 1173.1L938.9 1176.7L940.7 1180.3L942.6 1183.8L944.6 1187.3L946.7 1190.7L948.8 1194.1L950.8 1197.6L952.9 1201.0L954.9 1204.5L957.1 1207.8L959.4 1211.2L961.7 1214.4L964.1 1217.7L966.5 1220.8L969.0 1224.0L971.5 1227.1L974.1 1230.1L976.7 1233.2L979.4 1236.2L982.1 1239.1L985.0 1242.0L987.9 1244.7L990.9 1247.4L994.0 1250.0L997.0 1252.6L1000.1 1255.1L1003.3 1257.6L1006.5 1260.0L1009.8 1262.3L1013.1 1264.5L1016.5 1266.6L1019.9 1268.7L1023.3 1270.8L1026.8 1272.9L1030.3 1274.9L1033.8 1276.7L1037.4 1278.5L1041.1 1280.2L1044.7 1281.9L1048.4 1283.6L1052.0 1285.2L1055.7 1286.7L1059.4 1288.2L1063.2 1289.7L1067.0 1290.9L1070.8 1292.1L1074.7 1293.2L1078.6 1294.2L1082.5 1295.2L1086.4 1296.1L1090.3 1297.0L1094.2 1297.8L1098.2 1298.5L1102.1 1299.2L1106.1 1299.8L1110.1 1300.3L1114.0 1300.7L1118.0 1301.1L1122.0 1301.5L1126.0 1301.9L1130.0 1302.4L1134.0 1302.9L1138.0 1303.4L1141.9 1304.0L1145.9 1304.6L1149.9 1305.2L1153.8 1305.8L1157.8 1306.2L1161.8 1306.6L1165.8 1306.9L1169.8 1307.1L1173.8 1307.3L1177.8 1307.5L1181.8 1307.6L1185.8 1307.8L1189.9 1307.9L1193.9 1308.0L1197.9 1308.0L1201.9 1308.1L1205.9 1308.2L1209.9 1308.2L1213.9 1308.3L1217.9 1308.4L1221.9 1308.4L1225.9 1308.5L1230.0 1308.5L1234.0 1308.6L1238.0 1308.6L1242.0 1308.7L1246.0 1308.7L1250.0 1308.7L1258.6 1309.8L1261.8 1309.7L1264.9 1310.1L1268.0 1309.9L1271.1 1309.8L1274.3 1310.3L1277.4 1311.0L1280.5 1310.9L1283.6 1310.9L1286.8 1310.3L1289.9 1310.8L1293.0 1310.5L1296.1 1310.4L1299.3 1310.3L1302.4 1310.5L1305.5 1311.3L1308.6 1311.2L1311.8 1311.2L1314.9 1311.2L1318.0 1310.5L1321.1 1310.6L1324.3 1311.0L1327.4 1311.1L1330.5 1311.3L1333.6 1311.3L1336.8 1310.4L1339.9 1311.0L1343.0 1311.1L1346.2 1310.9L1349.3 1310.5L1352.4 1310.9L1355.5 1310.4L1358.7 1311.5L1361.8 1311.4L1364.9 1311.0L1368.0 1310.7L1371.2 1311.5L1374.3 1311.1L1377.4 1311.4L1380.5 1311.4L1383.7 1311.0L1386.8 1310.9L1389.9 1311.1L1393.0 1310.9L1396.2 1310.6L1399.3 1310.8L1402.4 1311.4L1405.5 1310.5L1408.7 1310.5L1411.8 1311.2L1414.9 1310.8L1418.0 1311.1L1421.2 1311.1L1424.3 1310.9L1427.4 1311.7L1430.5 1310.7L1433.7 1311.0L1436.8 1310.8L1439.9 1311.3L1443.1 1310.9L1446.2 1311.0L1449.3 1311.5L1452.4 1311.0L1455.6 1311.2L1458.7 1311.7L1461.8 1310.7L1464.9 1310.7L1468.1 1310.9L1471.2 1311.5L1474.3 1311.4L1477.4 1310.9L1480.6 1311.0L1483.7 1310.8L1486.8 1311.1L1489.9 1310.6L1493.1 1311.4L1496.2 1311.6L1499.3 1311.7L1502.4 1311.4L1505.6 1311.7L1508.7 1310.5L1511.8 1310.9L1514.9 1311.7L1518.1 1311.4L1521.2 1311.0L1524.3 1311.6L1527.4 1311.2L1530.6 1311.4L1533.7 1310.8L1536.8 1310.7L1540.0 1310.9L1543.1 1310.6L1546.2 1310.8L1549.3 1311.5L1552.5 1310.7L1555.6 1310.3L1558.7 1310.4L1561.8 1310.5L1565.0 1311.2L1568.1 1310.7L1571.2 1310.6L1574.3 1310.3L1577.5 1311.4L1580.6 1310.7L1583.7 1310.4L1586.8 1310.2L1590.0 1310.2L1593.1 1310.3L1596.2 1310.9L1599.3 1310.2L1602.5 1310.1L1605.6 1310.6L1608.7 1310.3L1611.8 1311.2L1615.0 1310.1L1618.1 1310.5L1621.2 1310.7L1624.3 1310.2L1627.5 1310.8L1630.6 1310.1L1633.7 1309.7L1636.9 1309.9L1640.0 1309.3L1643.1 1309.7L1646.2 1309.4L1649.4 1310.1L1652.5 1310.0L1655.6 1309.5L1658.7 1308.9L1661.9 1309.1L1665.0 1309.0L1668.1 1308.9L1671.2 1308.9L1674.4 1309.6L1677.5 1308.7L1680.6 1308.5L1683.7 1309.5L1686.9 1309.0L1690.0 1309.5L1693.1 1308.7L1696.2 1309.2L1699.4 1308.9L1702.5 1309.0L1705.6 1308.9L1708.7 1308.6L1711.9 1308.1L1715.0 1308.2L1718.1 1309.0L1721.2 1309.0L1724.4 1309.0L1727.5 1308.2L1730.6 1308.6L1733.8 1308.7L1736.9 1308.5L1740.0 1308.7L1743.1 1308.3L1746.3 1308.4L1749.4 1308.4L1752.5 1307.9L1755.6 1308.6L1758.8 1308.6L1761.9 1307.5L1765.0 1308.5L1768.1 1308.5L1771.3 1308.1L1774.4 1307.3L1777.5 1308.2L1780.6 1307.3L1783.8 1308.2L1786.9 1307.8L1790.0 1307.1L1793.1 1307.1L1796.3 1307.7L1799.4 1307.6L1802.5 1307.7L1805.6 1307.9L1808.8 1307.0L1811.9 1306.8L1815.0 1307.8L1818.1 1306.7L1821.3 1307.7L1824.4 1306.8L1827.5 1307.6L1830.7 1307.5L1833.8 1307.6L1836.9 1307.2L1840.0 1307.5L1843.2 1306.7L1846.3 1307.2L1849.4 1306.7L1852.5 1307.3L1855.7 1307.2L1858.8 1306.7L1861.9 1306.8L1865.0 1306.1L1868.2 1306.1L1871.3 1306.7L1874.4 1306.5L1877.5 1306.9L1880.7 1306.6L1883.8 1306.0L1886.9 1306.2L1890.0 1306.7L1893.2 1306.3L1896.3 1305.7L1899.4 1306.6L1902.5 1306.6L1905.7 1305.7L1908.8 1306.2L1911.9 1306.0L1915.0 1306.4L1918.2 1305.8L1921.3 1305.7L1924.4 1306.0L1927.6 1306.5L1930.7 1305.4L1933.8 1305.4L1936.9 1306.0L1940.1 1306.2L1943.2 1305.8L1946.3 1305.6L1949.4 1306.1L1952.6 1305.9L1955.7 1305.0L1958.8 1306.0L1961.9 1305.1L1965.1 1305.2L1968.2 1305.8L1971.3 1305.2L1974.4 1305.6L1977.6 1304.8L1980.7 1305.6L1983.8 1304.8L1986.9 1304.7L1990.1 1305.1L1993.2 1304.9L1996.3 1305.1L1999.4 1305.5L2002.6 1305.2L2005.7 1304.4L2008.8 1304.7L2011.9 1304.9L2015.1 1304.8L2018.2 1305.1L2021.3 1304.8L2024.5 1304.3L2027.6 1304.4L2030.7 1305.1L2033.8 1304.5L2037.0 1305.0L2040.1 1305.2L2043.2 1304.7L2046.3 1304.8L2049.5 1304.6L2052.6 1304.3L2055.7 1304.9L2058.8 1304.4L2062.0 1304.9L2065.1 1304.1L2068.2 1304.8L2071.3 1304.6L2074.5 1304.4L2077.6 1304.1L2080.7 1303.7L2083.8 1304.4L2087.0 1303.9L2090.1 1304.2L2093.2 1303.6L2096.3 1303.4L2099.5 1303.5L2102.6 1304.2L2105.7 1303.5L2108.8 1304.3L2112.0 1303.7L2115.1 1303.9L2118.2 1303.6L2121.4 1303.9L2124.5 1303.2L2127.6 1303.6L2130.7 1304.2L2133.9 1303.3L2137.0 1303.8"/>
<path class="curve" stroke="#0000ff" d="M261.5 362.7L261.5 381.5L262.5 381.5L262.5 364.0L263.6 365.5L263.6 381.5L264.6 380.2L264.6 366.7L265.7 368.5L265.7 372.0L266.7 370.7L266.7 369.5L267.8 370.2L268.8 370.2L269.8 370.2L270.9 370.1L271.9 370.1L273.0 369.8L274.0 369.5L275.0 368.8L276.1 366.5L276.1 369.2L277.1 369.2L277.1 363.0L278.2 360.2L278.2 369.7L279.2 370.2L279.2 357.5L280.3 354.7L280.3 371.2L281.3 373.5L281.3 352.0L282.3 349.2L282.3 384.2L283.4 384.2L283.4 346.0L284.4 343.5L284.4 384.2L285.5 384.2L285.5 341.0L286.5 338.5L286.5 384.2L287.5 384.2L287.5 336.2L288.6 335.2L288.6 384.2L289.6 384.0L289.6 334.2L290.7 333.5L290.7 383.5L291.7 383.0L291.7 332.5L292.8 331.7L292.8 383.0L293.8 383.0L293.8 330.7L294.8 330.0L294.8 383.2L295.9 384.0L295.9 328.7L296.9 328.0L296.9 385.0L298.0 386.2L298.0 327.0L299.0 326.2L299.0 386.2L300.1 386.2L300.1 325.5L301.1 324.5L301.1 386.2L302.1 386.5L302.1 323.5L303.2 322.5L303.2 386.5L304.2 386.7L304.2 321.7L305.3 320.7L305.3 387.0L306.3 387.2L306.3 320.0L307.3 319.0L307.3 387.5L308.4 387.7L308.4 318.7L309.4 318.5L309.4 388.0L310.5 388.0L310.5 318.5L311.5 318.2L311.5 388.2L312.6 388.2L312.6 318.0L313.6 318.0L313.6 378.2L314.6 367.2L314.6 317.7L315.7 317.5L315.7 365.2L316.7 364.5L316.7 317.2L317.8 317.2L317.8 364.0L318.8 363.7L318.8 317.0L319.8 316.7L319.8 363.5L320.9 363.5L320.9 316.7L321.9 316.5L321.9 363.5L323.0 363.5L323.0 316.2L324.0 316.2L324.0 363.5L325.1 363.5L325.1 316.0L326.1 315.7L326.1 363.5L327.1 363.5L327.1 315.5L328.2 315.5L328.2 363.5L329.2 363.5L329.2 315.2L330.3 315.0L330.3 363.5L331.3 363.5L331.3 315.0L332.4 314.7L332.4 363.5L333.4 363.5L333.4 314.5L334.4 314.5L334.4 363.5L335.5 363.5L335.5 314.2L336.5 314.0L336.5 363.5L337.6 363.5L337.6 314.0L338.6 313.7L338.6 363.7L339.6 364.0L339.6 313.5L340.7 313.0L340.7 348.5L341.7 346.2L341.7 312.2L342.8 311.5L342.8 345.0L343.8 344.2L343.8 310.5L344.9 308.0L344.9 343.7L345.9 343.7L345.9 306.5L346.9 306.5L346.9 343.7L348.0 344.0L348.0 307.2L349.0 313.0L349.0 344.5L350.1 345.2L350.1 322.7L351.1 325.7L351.1 346.0L352.1 346.2L352.1 327.2L353.2 328.0L353.2 346.7L354.2 347.2L354.2 328.7L355.3 332.0L355.3 348.0L356.3 349.2L356.3 342.5L357.4 344.7L357.4 352.7L358.4 353.0L358.4 346.0L359.4 346.7L359.4 353.5L360.5 354.2L360.5 347.5L361.5 349.5L361.5 355.5L362.6 356.7L362.6 352.5L363.6 354.2L363.6 361.0L364.7 362.0L364.7 355.5L365.7 356.0L365.7 362.5L366.7 363.5L366.7 356.5L367.8 358.5L367.8 365.2L368.8 367.7L368.8 362.2L369.9 364.0L369.9 374.2L370.9 375.2L370.9 365.2L371.9 365.7L371.9 375.5L373.0 375.7L373.0 366.2L374.0 366.2L374.0 375.7L375.1 376.2L375.1 366.5L376.1 366.7L376.1 377.0L377.2 378.0L377.2 371.0L378.2 375.7L378.2 379.5L379.2 382.2L379.2 378.0L380.3 379.2L380.3 382.5L381.3 382.5L381.3 380.0L382.4 380.5L382.4 383.2L383.4 384.0L383.4 381.0L384.4 381.2L384.4 385.2L385.5 387.5L385.5 381.5L386.5 381.7L386.5 389.0L387.6 390.0L387.6 382.0L388.6 382.2L388.6 391.5L389.7 392.7L389.7 382.5L390.7 383.0L390.7 393.2L391.7 393.2L391.7 383.5L392.8 384.0L392.8 393.2L393.8 392.7L393.8 384.2L394.9 384.7L394.9 392.2L395.9 391.7L395.9 385.2L397.0 385.7L397.0 391.5L398.0 391.5L398.0 386.2L399.0 386.7L399.0 391.5L400.1 392.0L400.1 387.0L401.1 387.5L401.1 392.7L402.2 393.7L402.2 388.0L403.2 388.0L403.2 395.0L404.2 396.0L404.2 388.0L405.3 387.5L405.3 397.0L406.3 397.5L406.3 387.0L407.4 385.7L407.4 397.7L408.4 397.7L408.4 384.0L409.5 382.5L409.5 398.0L410.5 398.0L410.5 382.7L411.5 385.5L411.5 398.2L412.6 398.7L412.6 392.2L413.6 396.5L413.6 399.5L414.7 400.5L414.7 398.5L415.7 400.0L415.7 401.7L416.7 403.0L416.7 401.0L417.8 401.5L417.8 403.7L418.8 404.0L418.8 402.0L419.9 402.0L419.9 404.5L420.9 404.7L420.9 402.0L422.0 401.5L422.0 405.0L423.0 405.2L423.0 401.0L424.0 400.5L424.0 405.5L425.1 406.0L425.1 400.0L426.1 400.0L426.1 406.2L427.2 406.5L427.2 400.5L428.2 401.0L428.2 406.7L429.3 407.0L429.3 401.2L430.3 401.7L430.3 406.7L431.3 406.7L431.3 402.2L432.4 402.7L432.4 406.5L433.4 406.2L433.4 403.2L434.5 403.7L434.5 406.5L435.5 406.7L435.5 404.0L436.5 404.0L436.5 407.2L437.6 408.0L437.6 404.0L438.6 403.5L438.6 409.0L439.7 409.5L439.7 403.0L440.7 402.5L440.7 409.2L441.8 409.2L441.8 402.0L442.8 401.2L442.8 409.2L443.8 409.5L443.8 400.7L444.9 400.2L444.9 410.0L445.9 411.0L445.9 402.5L447.0 409.2L447.0 412.5L448.0 414.5L448.0 413.2L449.0 414.5L449.0 415.5L450.1 415.7L451.1 416.5L452.2 417.5L453.2 418.5L454.3 421.5L454.3 419.2L455.3 420.0L455.3 424.5L456.3 427.5L456.3 421.0L457.4 421.7L457.4 430.2L458.4 432.5L458.4 422.2L459.5 422.5L459.5 434.7L460.5 435.0L460.5 422.7L461.6 422.7L461.6 434.0L462.6 433.0L462.6 422.7L463.6 423.2L463.6 432.0L464.7 431.2L464.7 424.2L465.7 425.0L465.7 430.7L466.8 430.7L466.8 425.7L467.8 426.2L467.8 430.5L468.8 430.5L468.8 426.5L469.9 426.5L469.9 430.5L470.9 430.5L470.9 426.5L472.0 426.2L472.0 430.5L473.0 430.7L473.0 426.0L474.1 425.7L474.1 431.0L475.1 431.5L475.1 425.7L476.1 425.5L476.1 432.5L477.2 434.0L477.2 426.2L478.2 431.7L478.2 435.7L479.3 437.5L479.3 435.7L480.3 437.0L480.3 439.2L481.3 440.5L481.3 437.7L482.4 438.2L482.4 441.5L483.4 442.2L483.4 438.5L484.5 438.7L484.5 443.0L485.5 443.7L485.5 438.7L486.6 438.7L486.6 444.5L487.6 445.2L487.6 438.7L488.6 438.7L488.6 446.2L489.7 446.2L489.7 438.7L490.7 438.7L490.7 446.2L491.8 446.0L491.8 438.7L492.8 439.0L492.8 445.7L493.9 445.7L493.9 439.0L494.9 439.0L494.9 446.0L495.9 446.0L495.9 439.2L497.0 439.5L497.0 446.2L498.0 446.2L498.0 440.5L499.1 441.2L499.1 446.5L500.1 446.5L500.1 442.2L501.1 443.0L501.1 446.7L502.2 447.2L502.2 443.7L503.2 444.0L503.2 447.7L504.3 448.7L504.3 444.2L505.3 444.5L505.3 450.5L506.4 452.5L506.4 444.5L507.4 444.7L507.4 453.7L508.4 453.7L508.4 445.0L509.5 445.2L509.5 454.0L510.5 454.2L510.5 445.5L511.6 446.2L511.6 454.5L512.6 455.0L512.6 447.0L513.6 448.2L513.6 456.0L514.7 457.0L514.7 451.0L515.7 453.7L515.7 458.2L516.8 459.5L516.8 456.7L517.8 458.7L517.8 460.5L518.9 462.0L518.9 459.7L519.9 460.5L519.9 463.7L520.9 467.7L520.9 462.0L522.0 469.2L522.0 472.7L523.0 476.2L523.0 474.5L524.1 476.6L525.1 477.6L526.2 478.3L527.2 479.5L527.2 478.5L528.2 479.0L528.2 480.2L529.3 481.0L529.3 479.5L530.3 480.5L530.3 481.7L531.4 483.0L531.4 481.5L532.4 482.7L532.4 484.0L533.4 484.7L533.4 483.7L534.5 484.7L534.5 485.7L535.5 486.7L535.5 485.2L536.6 485.7L536.6 488.2L537.6 490.7L537.6 487.0L538.7 492.6L539.7 495.3L540.7 497.1L541.8 500.0L541.8 498.5L542.8 499.0L542.8 503.5L543.9 507.7L543.9 499.5L544.9 499.7L544.9 509.2L545.9 509.7L545.9 501.0L547.0 505.0L547.0 510.2L548.0 511.2L548.0 508.7L549.1 512.6L550.1 515.8L551.2 518.6L552.2 520.2L553.2 521.7L554.3 523.5L554.3 522.5L555.3 523.2L555.3 525.0L556.4 526.7L556.4 523.7L557.4 524.5L557.4 528.0L558.5 529.5L558.5 525.5L559.5 527.5L559.5 530.7L560.5 532.0L560.5 529.5L561.6 531.5L561.6 533.0L562.6 533.8L563.7 535.3L564.7 536.3L565.7 537.5L566.8 538.5L567.8 539.7L568.9 541.1L569.9 542.0L569.9 543.5L571.0 546.0L571.0 544.0L572.0 548.0L572.0 550.2L573.0 556.0L573.0 550.0L574.1 551.0L574.1 556.7L575.1 556.7L575.1 551.7L576.2 552.2L576.2 556.7L577.2 556.7L577.2 552.7L578.2 553.0L578.2 557.2L579.3 558.0L579.3 554.5L580.3 556.5L580.3 559.2L581.4 561.2L581.4 558.0L582.4 559.2L582.4 562.0L583.5 562.5L583.5 559.7L584.5 560.0L584.5 563.0L585.5 564.0L585.5 560.0L586.6 560.2L586.6 565.7L587.6 574.7L587.6 566.5L588.7 574.5L588.7 578.0L589.7 578.5L589.7 576.2L590.8 577.2L590.8 579.2L591.8 580.2L591.8 577.7L592.8 578.2L592.8 582.0L593.9 585.5L593.9 581.2L594.9 583.7L594.9 587.5L596.0 588.7L596.0 584.7L597.0 585.2L597.0 589.7L598.0 590.0L598.0 585.5L599.1 585.5L599.1 590.0L600.1 590.0L600.1 585.5L601.2 585.0L601.2 590.0L602.2 590.0L602.2 584.5L603.3 583.5L603.3 590.2L604.3 590.5L604.3 582.7L605.3 583.5L605.3 591.0L606.4 592.0L606.4 586.2L607.4 588.0L607.4 592.7L608.5 593.7L608.5 589.0L609.5 589.7L609.5 594.7L610.5 596.0L610.5 590.2L611.6 590.7L611.6 598.7L612.6 602.5L612.6 590.7L613.7 590.7L613.7 603.5L614.7 603.2L614.7 590.5L615.8 590.0L615.8 601.0L616.8 599.7L616.8 589.7L617.8 589.7L617.8 599.0L618.9 598.5L618.9 590.0L619.9 591.0L619.9 598.2L621.0 598.0L621.0 591.5L622.0 591.7L622.0 598.0L623.1 598.0L623.1 591.7L624.1 591.7L624.1 598.0L625.1 598.0L625.1 591.5L626.2 591.0L626.2 598.0L627.2 598.0L627.2 590.0L628.3 588.5L628.3 598.0L629.3 597.7L629.3 586.7L630.3 587.0L630.3 597.2L631.4 597.2L631.4 587.5L632.4 588.0L632.4 597.2L633.5 597.2L633.5 588.0L634.5 588.0L634.5 597.7L635.6 598.2L635.6 588.0L636.6 587.7L636.6 598.7L637.6 599.5L637.6 587.5L638.7 587.5L638.7 600.0L639.7 600.7L639.7 589.5L640.8 591.7L640.8 601.7L641.8 602.7L641.8 592.7L642.8 593.5L642.8 603.5L643.9 603.5L643.9 594.0L644.9 594.5L644.9 603.7L646.0 604.2L646.0 596.5L647.0 598.0L647.0 604.7L648.1 605.2L648.1 599.0L649.1 599.5L649.1 605.0L650.1 604.0L650.1 600.0L651.2 600.0L651.2 602.7L652.2 602.0L652.2 600.0L653.3 599.5L653.3 601.5L654.3 601.2L654.3 599.0L655.4 598.5L655.4 601.0L656.4 601.0L656.4 598.0L657.4 597.0L657.4 601.0L658.5 600.2L658.5 595.7L659.5 593.0L659.5 599.5L660.6 598.5L660.6 591.0L661.6 590.7L661.6 598.0L662.6 597.7L662.6 591.0L663.7 591.2L663.7 597.7L664.7 597.7L664.7 592.5L665.8 593.5L665.8 598.2L666.8 598.7L666.8 594.5L667.9 595.0L667.9 599.5L668.9 600.2L668.9 595.2L669.9 595.2L669.9 600.2L671.0 600.2L671.0 595.2L672.0 594.7L672.0 599.7L673.1 598.7L673.1 594.0L674.1 592.5L674.1 597.7L675.1 596.5L675.1 590.5L676.2 589.7L676.2 595.7L677.2 595.2L677.2 589.7L678.3 590.0L678.3 594.7L679.3 594.5L679.3 590.2L680.4 590.2L680.4 594.0L681.4 593.5L681.4 590.2L682.4 590.0L682.4 593.5L683.5 593.5L683.5 589.5L684.5 589.0L684.5 593.5L685.6 594.0L685.6 588.0L686.6 587.5L686.6 594.7L687.7 595.5L687.7 587.7L688.7 588.2L688.7 596.0L689.7 596.0L689.7 588.7L690.8 589.2L690.8 595.7L691.8 595.2L691.8 589.2L692.9 589.2L692.9 594.7L693.9 594.5L693.9 589.0L694.9 588.5L694.9 594.5L696.0 594.5L696.0 588.2L697.0 588.2L697.0 595.0L698.1 595.5L698.1 588.5L699.1 589.0L699.1 596.0L700.2 596.5L700.2 589.0L701.2 589.0L701.2 596.7L702.2 597.2L702.2 588.7L703.3 588.2L703.3 597.2L704.3 597.2L704.3 587.7L705.4 586.5L705.4 597.2L706.4 597.5L706.4 584.5L707.4 582.2L707.4 597.5L708.5 597.7L708.5 583.0L709.5 586.7L709.5 598.2L710.6 599.2L710.6 588.2L711.6 589.2L711.6 601.5L712.7 606.7L712.7 589.7L713.7 590.0L713.7 608.2L714.7 607.0L714.7 590.2L715.8 590.2L715.8 604.7L716.8 603.5L716.8 590.2L717.9 590.2L717.9 602.7L718.9 602.0L718.9 592.7L720.0 595.0L720.0 602.0L721.0 601.7L721.0 596.0L722.0 596.5L722.0 602.0L723.1 602.0L723.1 597.0L724.1 597.0L724.1 602.5L725.2 603.2L725.2 597.0L726.2 596.7L726.2 604.5L727.2 606.7L727.2 596.2L728.3 595.2L728.3 615.7L729.3 626.2L729.3 594.0L730.4 592.2L730.4 626.2L731.4 626.2L731.4 590.0L732.5 578.5L732.5 626.2L733.5 626.0L733.5 579.5L734.5 593.5L734.5 625.7L735.6 625.5L735.6 600.2L736.6 602.0L736.6 625.0L737.7 623.7L737.7 603.0L738.7 603.5L738.7 623.0L739.7 622.5L739.7 603.7L740.8 604.0L740.8 622.2L741.8 622.2L741.8 604.2L742.9 604.2L742.9 622.5L743.9 623.0L743.9 606.5L745.0 608.2L745.0 623.7L746.0 625.0L746.0 610.0L747.0 615.2L747.0 629.0L748.1 634.5L748.1 624.0L749.1 630.5L749.1 639.2L750.2 642.7L750.2 638.0L751.2 640.2L751.2 645.5L752.3 646.5L752.3 641.5L753.3 642.2L753.3 647.7L754.3 649.2L754.3 642.7L755.4 643.0L755.4 651.7L756.4 651.7L756.4 645.0L757.5 646.2L757.5 652.2L758.5 652.7L758.5 647.2L759.5 648.5L759.5 653.7L760.6 656.8L761.6 662.8L762.7 669.6L769.2 688.0L772.8 707.5L777.5 726.0L782.1 744.4L784.5 762.9L786.7 781.3L791.8 788.7L795.0 799.7L795.5 803.7L796.1 807.7L796.7 811.7L797.3 815.6L798.0 819.6L798.7 823.5L799.5 827.4L800.3 831.4L801.2 835.3L802.0 839.2L802.7 843.2L803.5 847.1L804.3 851.0L805.1 855.0L805.8 859.0L806.5 863.0L807.2 866.9L808.0 870.8L809.3 874.6L811.0 878.2L812.0 882.0L812.7 885.9L813.4 889.9L813.9 893.9L814.5 897.9L815.0 901.9L815.6 905.9L816.1 909.9L816.7 913.9L817.2 917.8L817.8 921.8L818.3 925.8L818.8 929.8L819.4 933.7L820.0 937.7L820.5 941.7L821.1 945.7L821.7 949.7L822.4 953.6L823.1 957.6L824.0 961.4L825.1 965.2L826.5 969.0L828.0 972.7L829.6 976.5L831.1 980.2L832.5 984.0L834.0 987.7L835.4 991.4L836.9 995.2L838.4 998.9L839.9 1002.6L841.2 1006.4L842.3 1010.2L843.4 1014.1L844.4 1018.0L845.3 1021.9L846.3 1025.8L847.3 1029.7L848.4 1033.6L849.5 1037.4L850.6 1041.3L851.8 1045.1L852.9 1049.0L854.1 1052.8L855.3 1056.6L856.5 1060.5L857.7 1064.3L859.0 1068.1L860.2 1071.9L861.5 1075.7L862.7 1079.5L863.8 1083.4L864.9 1087.2L866.1 1091.1L867.2 1094.9L868.4 1098.8L869.7 1102.6L871.0 1106.3L872.4 1110.1L873.8 1113.9L875.1 1117.7L876.4 1121.5L877.7 1125.3L879.0 1129.1L880.3 1132.9L881.7 1136.6L883.1 1140.4L884.5 1144.2L886.0 1147.9L887.6 1151.6L889.5 1155.1L891.7 1158.4L893.6 1162.0L895.2 1165.6L896.6 1169.4L898.0 1173.2L899.4 1176.9L900.9 1180.7L902.4 1184.4L903.8 1188.1L905.3 1191.9L906.9 1195.6L908.5 1199.2L910.2 1202.9L911.9 1206.5L913.7 1210.1L915.5 1213.6L917.6 1217.1L919.8 1220.5L921.9 1223.9L924.0 1227.3L926.1 1230.7L928.1 1234.2L930.2 1237.6L932.4 1241.0L934.6 1244.3L936.8 1247.7L939.1 1251.0L941.4 1254.3L943.7 1257.6L946.0 1260.8L948.5 1264.0L951.0 1267.1L953.7 1270.1L956.4 1273.1L959.2 1276.0L962.1 1278.8L965.0 1281.5L968.0 1284.1L971.1 1286.7L974.2 1289.3L977.3 1291.8L980.5 1294.3L983.7 1296.7L986.9 1299.1L990.1 1301.5L993.4 1303.8L996.7 1306.0L1000.1 1308.1L1003.6 1310.2L1007.1 1312.1L1010.7 1314.0L1014.3 1315.8L1017.9 1317.5L1021.5 1319.2L1025.2 1320.8L1028.9 1322.4L1032.6 1324.0L1036.3 1325.5L1040.0 1327.0L1043.8 1328.3L1047.6 1329.7L1051.4 1331.0L1055.2 1332.2L1059.0 1333.3L1062.9 1334.5L1066.7 1335.6L1070.6 1336.7L1074.5 1337.8L1078.4 1338.7L1082.3 1339.6L1086.2 1340.4L1090.1 1341.2L1094.1 1342.0L1098.0 1342.8L1102.0 1343.4L1105.9 1344.0L1109.9 1344.6L1113.9 1345.2L1117.8 1345.8L1121.8 1346.3L1125.8 1346.9L1129.8 1347.4L1133.8 1347.7L1137.8 1348.0L1141.8 1348.2L1145.8 1348.4L1149.8 1348.6L1153.8 1348.8L1157.8 1349.1L1161.8 1349.4L1165.8 1349.7L1169.8 1350.0L1173.8 1350.2L1177.8 1350.5L1181.8 1350.7L1185.8 1350.9L1189.8 1351.0L1193.9 1351.2L1197.9 1351.4L1201.9 1351.6L1205.9 1351.7L1209.9 1351.9L1213.9 1352.0L1217.9 1352.2L1221.9 1352.3L1225.9 1352.4L1229.9 1352.5L1234.0 1352.6L1238.0 1352.7L1242.0 1352.8L1246.0 1352.8L1250.0 1352.9L1258.6 1354.1L1261.8 1354.2L1264.9 1353.8L1268.0 1354.0L1271.1 1354.5L1274.3 1354.6L1277.4 1354.7L1280.5 1354.6L1283.6 1354.9L1286.8 1355.0L1289.9 1355.1L1293.0 1355.0L1296.1 1355.3L1299.3 1355.3L1302.4 1355.6L1305.5 1355.9L1308.6 1355.9L1311.8 1355.8L1314.9 1355.8L1318.0 1355.8L1321.1 1355.8L1324.3 1355.9L1327.4 1356.2L1330.5 1356.2L1333.6 1356.4L1336.8 1356.8L1339.9 1356.6L1343.0 1356.7L1346.2 1356.6L1349.3 1356.6L1352.4 1356.9L1355.5 1356.9L1358.7 1357.2L1361.8 1357.6L1364.9 1357.5L1368.0 1357.3L1371.2 1357.8L1374.3 1357.8L1377.4 1357.9L1380.5 1358.1L1383.7 1358.1L1386.8 1358.1L1389.9 1357.9L1393.0 1358.3L1396.2 1358.4L1399.3 1357.9L1402.4 1358.3L1405.5 1358.3L1408.7 1358.2L1411.8 1358.3L1414.9 1358.3L1418.0 1358.6L1421.2 1358.4L1424.3 1358.6L1427.4 1358.4L1430.5 1358.7L1433.7 1358.8L1436.8 1358.6L1439.9 1358.7L1443.1 1358.9L1446.2 1358.8L1449.3 1358.7L1452.4 1358.6L1455.6 1358.7L1458.7 1359.0L1461.8 1358.7L1464.9 1359.2L1468.1 1358.8L1471.2 1359.3L1474.3 1359.0L1477.4 1359.4L1480.6 1359.3L1483.7 1359.2L1486.8 1359.2L1489.9 1359.4L1493.1 1359.4L1496.2 1359.2L1499.3 1359.2L1502.4 1359.4L1505.6 1359.7L1508.7 1359.6L1511.8 1359.3L1514.9 1359.8L1518.1 1359.7L1521.2 1359.9L1524.3 1359.5L1527.4 1359.9L1530.6 1359.5L1533.7 1359.9L1536.8 1359.7L1540.0 1359.7L1543.1 1360.2L1546.2 1359.7L1549.3 1360.0L1552.5 1360.3L1555.6 1359.9L1558.7 1359.9L1561.8 1360.4L1565.0 1360.2L1568.1 1360.4L1571.2 1360.0L1574.3 1360.2L1577.5 1360.0L1580.6 1360.3L1583.7 1360.0L1586.8 1360.5L1590.0 1360.0L1593.1 1360.4L1596.2 1360.0L1599.3 1360.1L1602.5 1360.4L1605.6 1360.0L1608.7 1360.0L1611.8 1360.4L1615.0 1360.2L1618.1 1360.0L1621.2 1360.5L1624.3 1360.0L1627.5 1360.0L1630.6 1360.1L1633.7 1360.3L1636.9 1360.4L1640.0 1360.0L1643.1 1360.1L1646.2 1360.0L1649.4 1360.2L1652.5 1360.4L1655.6 1360.4L1658.7 1360.5L1661.9 1360.4L1665.0 1360.5L1668.1 1360.4L1671.2 1360.2L1674.4 1360.1L1677.5 1360.3L1680.6 1360.1L1683.7 1360.0L1686.9 1360.2L1690.0 1360.5L1693.1 1360.0L1696.2 1360.3L1699.4 1360.2L1702.5 1360.3L1705.6 1360.1L1708.7 1360.6L1711.9 1360.2L1715.0 1360.4L1718.1 1360.3L1721.2 1360.1L1724.4 1360.4L1727.5 1360.2L1730.6 1360.1L1733.8 1360.1L1736.9 1360.2L1740.0 1360.2L1743.1 1360.5L1746.3 1360.5L1749.4 1360.8L1752.5 1360.7L1755.6 1360.8L1758.8 1360.3L1761.9 1360.4L1765.0 1360.3L1768.1 1360.5L1771.3 1360.6L1774.4 1360.7L1777.5 1360.6L1780.6 1360.3L1783.8 1360.4L1786.9 1360.5L1790.0 1360.2L1793.1 1360.2L1796.3 1360.4L1799.4 1360.3L1802.5 1360.6L1805.6 1360.3L1808.8 1360.3L1811.9 1360.3L1815.0 1360.3L1818.1 1360.3L1821.3 1360.5L1824.4 1360.5L1827.5 1360.4L1830.7 1360.6L1833.8 1360.3L1836.9 1360.8L1840.0 1360.8L1843.2 1360.7L1846.3 1360.5L1849.4 1360.5L1852.5 1360.6L1855.7 1360.3L1858.8 1360.5L1861.9 1360.6L1865.0 1360.3L1868.2 1360.3L1871.3 1360.7L1874.4 1360.5L1877.5 1360.6L1880.7 1360.8L1883.8 1360.6L1886.9 1360.4L1890.0 1360.8L1893.2 1360.5L1896.3 1360.3L1899.4 1360.7L1902.5 1360.3L1905.7 1360.4L1908.8 1360.8L1911.9 1360.7L1915.0 1360.3L1918.2 1360.5L1921.3 1360.5L1924.4 1360.6L1927.6 1360.4L1930.7 1360.6L1933.8 1360.3L1936.9 1360.5L1940.1 1360.5L1943.2 1360.8L1946.3 1360.3L1949.4 1360.7L1952.6 1360.4L1955.7 1360.6L1958.8 1360.5L1961.9 1360.6L1965.1 1360.7L1968.2 1360.5L1971.3 1360.4L1974.4 1360.4L1977.6 1360.4L1980.7 1360.8L1983.8 1360.7L1986.9 1360.9L1990.1 1360.7L1993.2 1360.3L1996.3 1360.7L1999.4 1360.8L2002.6 1360.8L2005.7 1360.6L2008.8 1360.5L2011.9 1360.6L2015.1 1360.8L2018.2 1360.5L2021.3 1360.6L2024.5 1360.6L2027.6 1360.9L2030.7 1360.8L2033.8 1360.9L2037.0 1360.8L2040.1 1360.5L2043.2 1360.5L2046.3 1360.6L2049.5 1360.5L2052.6 1360.6L2055.7 1360.8L2058.8 1360.9L2062.0 1360.7L2065.1 1360.8L2068.2 1360.4L2071.3 1360.6L2074.5 1361.0L2077.6 1360.5L2080.7 1360.6L2083.8 1360.4L2087.0 1360.4L2090.1 1360.9L2093.2 1361.0L2096.3 1360.8L2099.5 1360.5L2102.6 1360.6L2105.7 1360.5L2108.8 1360.8L2112.0 1360.8L2115.1 1360.6L2118.2 1360.7L2121.4 1360.5L2124.5 1360.7L2127.6 1361.0L2130.7 1360.8L2133.9 1360.5L2137.0 1360.7"/>
<path class="curve" stroke="#000000" d="M261.5 345.0L265.0 345.0L269.3 331.0L273.0 347.0L280.0 349.0L283.4 345.6L283.4 350.2L284.4 351.1L284.4 345.6L285.5 345.6L285.5 352.1L286.5 352.2L286.5 345.6L287.5 345.6L287.5 352.2L288.6 352.2L288.6 347.8L289.6 348.5L289.6 352.2L290.7 352.5L290.7 349.5L291.7 350.0L291.7 352.5L292.8 352.8L292.8 350.2L293.8 350.5L293.8 353.2L294.8 353.2L294.8 350.8L295.9 350.8L295.9 353.2L296.9 353.5L296.9 351.0L298.0 351.0L298.0 353.5L299.0 354.0L299.0 351.2L300.1 351.2L300.1 354.5L301.1 355.5L301.1 351.5L302.1 352.0L302.1 359.2L303.2 365.2L303.2 355.8L304.2 362.2L304.2 373.8L305.3 382.0L305.3 367.0L306.3 371.2L306.3 388.5L307.3 390.8L307.3 378.8L308.4 386.2L308.4 391.8L309.4 392.2L309.4 390.0L310.5 391.2L310.5 393.2L311.5 394.8L311.5 392.0L312.6 392.5L312.6 398.0L313.6 399.0L313.6 392.8L314.6 392.8L314.6 400.2L315.7 401.5L315.7 392.8L316.7 392.2L316.7 402.2L317.8 402.2L317.8 391.8L318.8 391.0L318.8 402.5L319.8 402.5L319.8 390.0L320.9 387.5L320.9 402.8L321.9 403.2L321.9 369.8L323.0 361.8L323.0 403.8L324.0 404.8L324.0 362.0L325.1 362.5L325.1 406.8L326.1 420.5L326.1 363.0L327.1 363.0L327.1 421.2L328.2 418.8L328.2 363.0L329.2 362.5L329.2 416.2L330.3 413.8L330.3 362.0L331.3 361.0L331.3 412.5L332.4 411.5L332.4 360.5L333.4 360.5L333.4 411.0L334.4 410.8L334.4 377.5L335.5 381.0L335.5 410.5L336.5 410.5L336.5 382.5L337.6 383.5L337.6 410.8L338.6 411.0L338.6 384.0L339.6 385.0L339.6 411.5L340.7 412.5L340.7 395.5L341.7 412.2L341.7 414.2L342.8 422.5L342.8 416.8L343.8 428.8L343.8 435.0L344.9 442.8L344.9 440.2L345.9 444.2L345.9 446.2L346.9 450.0L346.9 447.2L348.0 448.8L348.0 451.0L349.0 451.8L349.0 449.8L350.1 450.5L350.1 452.8L351.1 454.2L351.1 451.5L352.1 452.5L352.1 455.5L353.2 456.8L353.2 453.5L354.2 454.2L354.2 458.2L355.3 459.5L355.3 455.0L356.3 455.5L356.3 460.0L357.4 460.2L357.4 455.8L358.4 455.8L358.4 460.5L359.4 460.8L359.4 455.8L360.5 455.8L360.5 461.2L361.5 462.0L361.5 456.8L362.6 457.8L362.6 463.0L363.6 464.2L363.6 460.8L364.7 463.8L364.7 465.2L365.7 466.2L365.7 465.0L366.7 466.0L366.7 468.5L367.8 473.5L367.8 467.8L368.8 473.8L368.8 479.0L369.9 483.0L369.9 476.0L370.9 477.2L370.9 483.0L371.9 483.0L371.9 477.8L373.0 478.2L373.0 483.0L374.0 483.0L374.0 478.8L375.1 479.5L375.1 483.2L376.1 483.2L376.1 480.0L377.2 480.5L377.2 483.8L378.2 484.5L378.2 481.0L379.2 481.5L379.2 485.5L380.3 487.2L380.3 481.5L381.3 483.2L381.3 489.5L382.4 492.0L382.4 484.8L383.4 486.0L383.4 493.2L384.4 494.2L384.4 486.5L385.5 487.0L385.5 494.5L386.5 495.0L386.5 487.5L387.6 490.8L387.6 495.5L388.6 495.8L388.6 492.5L389.7 493.8L389.7 495.8L390.7 496.0L390.7 494.2L391.7 494.5L391.7 496.0L392.8 496.2L392.8 494.8L393.8 494.8L393.8 496.2L394.9 497.0L394.9 495.0L395.9 495.2L395.9 497.8L397.0 499.0L397.0 495.0L398.0 495.0L398.0 500.5L399.0 501.5L399.0 494.5L400.1 494.0L400.1 501.8L401.1 502.5L401.1 493.5L402.2 493.8L402.2 503.2L403.2 504.2L403.2 498.8L404.2 503.8L404.2 506.2L405.3 509.0L405.3 507.0L406.3 508.2L406.3 511.8L407.4 513.0L407.4 509.0L408.4 509.8L408.4 514.0L409.5 515.0L409.5 509.8L410.5 509.8L410.5 515.2L411.5 515.2L411.5 509.5L412.6 509.0L412.6 515.0L413.6 515.0L413.6 508.5L414.7 508.0L414.7 515.0L415.7 515.0L415.7 507.5L416.7 507.2L416.7 515.5L417.8 516.2L417.8 507.8L418.8 508.2L418.8 517.0L419.9 518.0L419.9 509.0L420.9 509.5L420.9 519.0L422.0 519.8L422.0 510.0L423.0 510.5L423.0 520.0L424.0 520.2L424.0 511.0L425.1 511.5L425.1 520.5L426.1 520.8L426.1 512.0L427.2 513.0L427.2 520.5L428.2 520.0L428.2 513.8L429.3 514.2L429.3 519.5L430.3 519.0L430.3 514.8L431.3 515.2L431.3 518.5L432.4 518.5L432.4 515.2L433.4 515.5L433.4 518.5L434.5 519.0L434.5 515.5L435.5 516.0L435.5 519.5L436.5 520.1L437.6 522.8L438.6 524.8L439.7 525.5L439.7 528.0L440.7 530.8L440.7 526.0L441.8 526.5L441.8 533.0L442.8 533.0L442.8 526.5L443.8 526.8L443.8 533.0L444.9 533.2L444.9 526.8L445.9 527.0L445.9 533.2L447.0 533.2L447.0 527.2L448.0 527.2L448.0 533.5L449.0 533.5L449.0 527.5L450.1 527.8L450.1 533.5L451.1 533.5L451.1 527.8L452.2 527.8L452.2 533.5L453.2 533.5L453.2 527.8L454.3 527.8L454.3 533.5L455.3 533.5L455.3 527.8L456.3 527.8L456.3 533.5L457.4 533.5L457.4 527.8L458.4 527.8L458.4 533.5L459.5 533.5L459.5 527.8L460.5 527.5L460.5 533.0L461.6 532.8L461.6 527.5L462.6 527.5L462.6 532.2L463.6 532.2L463.6 528.5L464.7 530.0L464.7 532.2L465.7 532.5L465.7 531.2L466.8 532.6L467.8 533.8L467.8 532.8L468.8 533.0L468.8 535.0L469.9 536.5L469.9 533.0L470.9 533.0L470.9 537.8L472.0 537.8L472.0 532.5L473.0 532.2L473.0 537.5L474.1 537.0L474.1 531.8L475.1 531.5L475.1 536.5L476.1 536.5L476.1 532.0L477.2 533.2L477.2 536.5L478.2 536.8L478.2 534.2L479.3 535.2L479.3 537.2L480.3 538.0L480.3 536.0L481.3 536.8L481.3 539.0L482.4 540.2L482.4 537.5L483.4 538.2L483.4 541.2L484.5 542.2L484.5 539.0L485.5 539.8L485.5 543.0L486.6 543.8L486.6 540.2L487.6 540.8L487.6 544.5L488.6 545.5L488.6 541.2L489.7 541.8L489.7 546.2L490.7 547.0L490.7 542.2L491.8 543.0L491.8 548.0L492.8 549.8L492.8 543.5L493.9 544.0L493.9 551.5L494.9 553.5L494.9 544.5L495.9 545.0L495.9 555.2L497.0 557.0L497.0 545.5L498.0 546.5L498.0 558.5L499.1 560.2L499.1 547.8L500.1 549.0L500.1 562.0L501.1 564.2L501.1 551.2L502.2 554.0L502.2 565.8L503.2 567.0L503.2 555.2L504.3 556.2L504.3 567.0L505.3 566.8L505.3 556.8L506.4 557.0L506.4 566.0L507.4 564.8L507.4 557.0L508.4 557.0L508.4 564.0L509.5 563.2L509.5 557.0L510.5 557.5L510.5 562.8L511.6 562.5L511.6 559.0L512.6 560.5L512.6 562.5L513.6 562.5L514.7 563.2L515.7 563.9L516.8 564.8L517.8 567.5L517.8 565.0L518.9 565.2L518.9 571.2L519.9 573.2L519.9 565.8L520.9 566.0L520.9 574.2L522.0 575.5L522.0 566.2L523.0 569.5L523.0 576.5L524.1 577.5L524.1 573.2L525.1 576.8L525.1 579.0L526.2 581.0L526.2 578.5L527.2 579.2L527.2 581.8L528.2 582.5L528.2 580.0L529.3 580.5L529.3 583.0L530.3 583.5L530.3 581.2L531.4 581.8L531.4 584.2L532.4 584.8L532.4 582.5L533.4 583.0L533.4 585.5L534.5 586.8L534.5 583.8L535.5 584.2L535.5 589.5L536.6 596.5L536.6 585.5L537.6 591.5L537.6 605.2L538.7 606.5L538.7 595.8L539.7 597.0L539.7 607.5L540.7 608.2L540.7 597.8L541.8 598.2L541.8 609.0L542.8 610.2L542.8 600.8L543.9 603.0L543.9 614.0L544.9 617.2L544.9 604.5L545.9 605.0L545.9 616.8L547.0 613.2L547.0 605.5L548.0 605.5L548.0 612.0L549.1 611.2L549.1 605.8L550.1 605.8L550.1 610.8L551.2 610.5L551.2 605.8L552.2 606.5L552.2 610.5L553.2 610.5L553.2 607.8L554.3 608.8L554.3 610.8L555.3 611.2L555.3 609.2L556.4 609.8L556.4 612.2L557.4 613.5L557.4 610.2L558.5 610.8L558.5 615.8L559.5 621.2L559.5 615.2L560.5 622.0L560.5 626.5L561.6 631.0L561.6 626.0L562.6 627.2L562.6 635.5L563.7 636.5L563.7 628.2L564.7 628.8L564.7 637.0L565.7 637.2L565.7 629.0L566.8 629.2L566.8 637.2L567.8 637.5L567.8 629.5L568.9 629.5L568.9 637.8L569.9 638.0L569.9 629.5L571.0 630.2L571.0 638.5L572.0 639.2L572.0 632.8L573.0 636.2L573.0 640.2L574.1 642.5L574.1 640.0L575.1 643.8L575.1 646.0L576.2 648.8L576.2 647.8L577.2 651.0L577.2 653.0L578.2 657.2L578.2 654.0L579.3 655.2L579.3 658.8L580.3 659.2L580.3 656.2L581.4 656.8L581.4 660.0L582.4 660.5L582.4 657.2L583.5 658.0L583.5 661.5L584.5 663.2L584.5 660.0L585.5 662.8L585.5 666.0L586.6 667.2L586.6 664.8L587.6 665.8L587.6 668.5L588.7 669.2L588.7 666.5L589.7 667.0L589.7 669.2L590.8 669.2L590.8 667.2L591.8 667.2L591.8 669.0L592.8 668.8L592.8 667.5L593.9 667.5L593.9 668.5L594.9 668.5L594.9 667.5L596.0 667.5L596.0 668.5L597.0 669.0L597.0 667.5L598.0 667.2L598.0 669.8L599.1 671.0L599.1 667.2L600.1 667.8L600.1 673.0L601.2 674.0L601.2 668.5L602.2 668.8L602.2 673.8L603.3 673.2L603.3 668.8L604.3 668.8L604.3 672.8L605.3 672.5L605.3 668.2L606.4 667.8L606.4 672.5L607.4 672.5L607.4 667.8L608.5 669.2L608.5 673.0L609.5 673.8L609.5 671.0L610.5 672.0L610.5 674.5L611.6 675.2L611.6 672.8L612.6 673.2L612.6 676.2L613.7 677.2L613.7 674.0L614.7 675.0L614.7 679.2L615.8 682.0L615.8 676.5L616.8 677.8L616.8 683.8L617.8 683.8L617.8 678.5L618.9 679.0L618.9 683.8L619.9 683.0L619.9 679.0L621.0 679.0L621.0 682.5L622.0 682.2L622.0 678.8L623.1 678.2L623.1 682.2L624.1 682.0L624.1 677.2L625.1 676.0L625.1 681.8L626.2 681.0L626.2 675.8L627.2 675.8L627.2 680.5L628.3 680.5L628.3 676.2L629.3 676.5L629.3 680.5L630.3 680.5L630.3 677.0L631.4 677.5L631.4 680.8L632.4 681.0L632.4 678.0L633.5 678.0L633.5 681.0L634.5 680.8L634.5 678.0L635.6 678.0L635.6 680.0L636.6 679.5L636.6 677.5L637.6 676.8L637.6 679.0L638.7 679.0L638.7 676.5L639.7 676.2L639.7 679.0L640.8 679.0L640.8 676.2L641.8 676.0L641.8 679.2L642.8 679.2L642.8 675.5L643.9 674.8L643.9 679.2L644.9 679.5L644.9 673.8L646.0 672.0L646.0 679.5L647.0 680.0L647.0 668.5L648.1 666.0L648.1 680.5L649.1 681.5L649.1 666.0L650.1 668.2L650.1 683.5L651.2 684.0L651.2 670.0L652.2 670.8L652.2 683.8L653.3 682.5L653.3 671.2L654.3 671.5L654.3 681.8L655.4 681.2L655.4 671.8L656.4 672.0L656.4 681.0L657.4 680.8L657.4 672.0L658.5 672.2L658.5 680.2L659.5 679.2L659.5 672.0L660.6 671.8L660.6 678.2L661.6 677.5L661.6 671.5L662.6 671.0L662.6 677.0L663.7 676.8L663.7 670.8L664.7 670.8L664.7 676.5L665.8 676.5L665.8 670.8L666.8 670.8L666.8 676.2L667.9 676.2L667.9 670.8L668.9 670.2L668.9 675.2L669.9 674.2L669.9 669.5L671.0 668.5L672.0 665.9L673.1 659.8L673.1 664.8L674.1 664.0L674.1 658.5L675.1 657.8L675.1 663.5L676.2 663.5L676.2 657.0L677.2 656.2L677.2 663.2L678.3 663.5L678.3 655.8L679.3 655.5L679.3 663.5L680.4 664.0L680.4 656.5L681.4 658.2L681.4 664.5L682.4 664.8L682.4 659.2L683.5 659.8L683.5 665.2L684.5 665.8L684.5 660.0L685.6 660.2L685.6 666.8L686.6 668.8L686.6 660.2L687.7 660.5L687.7 674.8L688.7 682.2L688.7 660.5L689.7 660.5L689.7 682.8L690.8 680.8L690.8 660.5L691.8 660.0L691.8 676.0L692.9 672.2L692.9 659.2L693.9 658.0L693.9 670.5L694.9 669.8L694.9 655.5L696.0 649.2L696.0 669.2L697.0 669.0L697.0 643.5L698.1 639.5L698.1 669.0L699.1 669.2L699.1 639.5L700.2 639.8L700.2 669.8L701.2 669.8L701.2 640.2L702.2 640.8L702.2 668.5L703.3 661.8L703.3 641.0L704.3 641.0L704.3 652.0L705.4 650.2L705.4 640.8L706.4 640.2L706.4 649.2L707.4 648.8L707.4 640.2L708.5 640.0L708.5 648.5L709.5 648.5L709.5 640.0L710.6 639.8L710.6 648.5L711.6 649.0L711.6 639.0L712.7 638.0L712.7 649.0L713.7 649.0L713.7 636.2L714.7 633.8L714.7 649.0L715.8 649.0L715.8 628.0L716.8 623.5L716.8 648.8L717.9 648.5L717.9 623.5L718.9 630.0L718.9 648.5L720.0 648.5L720.0 633.5L721.0 636.2L721.0 649.0L722.0 649.5L722.0 638.8L723.1 641.0L723.1 650.5L724.1 661.2L724.1 642.2L725.2 663.8L725.2 678.8L726.2 694.0L726.2 666.0L727.2 667.0L727.2 697.2L728.3 697.8L728.3 667.8L729.3 668.2L729.3 698.5L730.4 699.2L730.4 669.0L731.4 675.5L731.4 700.2L732.5 702.2L732.5 682.0L733.5 690.0L733.5 705.5L734.5 708.8L734.5 692.2L735.6 694.2L735.6 708.8L736.6 708.5L736.6 696.0L737.7 697.2L737.7 708.0L738.7 707.8L738.7 697.8L739.7 698.0L739.7 707.8L740.8 707.8L740.8 698.0L741.8 698.2L741.8 708.2L742.9 709.0L742.9 698.0L743.9 697.8L743.9 710.0L745.0 711.0L745.0 697.2L746.0 696.2L746.0 712.0L747.0 711.8L747.0 695.0L748.1 692.2L748.1 711.5L749.1 711.0L749.1 685.8L750.2 666.0L750.2 703.5L751.2 701.2L751.2 662.5L752.3 662.5L752.3 700.2L753.3 699.8L753.3 668.2L754.3 673.2L754.3 699.2L755.4 699.2L755.4 676.5L756.4 681.5L756.4 699.2L757.5 699.8L757.5 686.8L758.5 695.2L758.5 700.2L759.5 702.4L760.6 706.6L761.6 713.4L762.7 720.2L763.7 725.1L764.8 726.5L765.8 727.4L766.8 728.1L767.9 728.9L772.0 745.0L776.5 763.0L781.5 781.3L786.0 799.7L792.2 818.2L792.8 822.1L793.5 826.1L794.2 830.0L794.9 834.0L795.7 837.9L796.5 841.8L797.4 845.7L798.5 849.6L799.5 853.4L800.6 857.3L801.7 861.2L802.6 865.0L803.5 869.0L804.2 872.9L804.9 876.9L805.5 880.8L806.1 884.8L806.8 888.7L807.5 892.7L808.4 896.5L809.4 900.4L810.6 904.2L811.8 908.1L813.1 911.9L814.4 915.6L815.8 919.4L817.2 923.1L818.8 926.8L820.4 930.5L821.8 934.2L823.2 938.0L824.4 941.8L825.5 945.7L826.5 949.5L827.5 953.4L828.5 957.3L829.7 961.1L830.8 965.0L832.1 968.8L833.3 972.6L834.6 976.4L836.0 980.1L837.4 983.9L838.8 987.6L840.2 991.4L841.6 995.1L842.9 998.9L844.1 1002.7L845.3 1006.6L846.4 1010.4L847.6 1014.2L849.0 1018.0L850.4 1021.7L852.1 1025.3L853.9 1028.9L855.8 1032.4L857.7 1036.0L859.5 1039.6L861.3 1043.1L863.1 1046.7L864.9 1050.3L866.7 1053.9L868.5 1057.5L870.2 1061.1L872.0 1064.7L873.7 1068.3L875.5 1071.8L877.5 1075.4L879.5 1078.8L881.6 1082.2L883.6 1085.7L885.7 1089.1L888.0 1092.4L890.3 1095.6L892.6 1098.9L894.6 1102.4L896.7 1105.8L898.8 1109.2L901.2 1112.4L903.7 1115.5L906.4 1118.5L908.9 1121.6L911.3 1124.8L913.6 1128.1L916.0 1131.3L918.6 1134.4L921.3 1137.3L924.0 1140.3L926.8 1143.1L929.7 1145.9L932.4 1148.8L935.0 1151.9L937.4 1155.1L939.8 1158.3L942.3 1161.4L944.8 1164.6L947.4 1167.6L950.3 1170.4L953.3 1173.0L956.5 1175.4L959.7 1177.8L962.9 1180.2L966.2 1182.5L969.5 1184.8L972.8 1187.0L976.2 1189.1L979.7 1191.2L983.2 1193.2L986.7 1195.0L990.3 1196.8L993.9 1198.6L997.5 1200.3L1001.1 1202.0L1004.8 1203.6L1008.5 1205.0L1012.3 1206.4L1016.1 1207.6L1019.9 1209.0L1023.6 1210.5L1027.4 1211.8L1031.3 1212.6L1035.3 1213.2L1039.2 1213.7L1043.1 1214.5L1047.0 1215.5L1050.9 1216.6L1054.8 1217.4L1058.7 1218.2L1062.7 1219.0L1066.6 1219.8L1070.5 1220.6L1074.4 1221.3L1078.4 1222.0L1082.3 1222.6L1086.3 1223.1L1090.3 1223.7L1094.2 1224.4L1098.2 1224.9L1102.2 1225.5L1106.1 1226.0L1110.1 1226.5L1114.1 1226.9L1118.1 1227.3L1122.1 1227.7L1126.0 1227.9L1130.0 1228.1L1134.0 1228.4L1138.0 1228.8L1142.0 1229.2L1146.0 1229.6L1150.0 1230.0L1154.0 1230.3L1158.0 1230.5L1162.0 1230.7L1166.0 1230.9L1170.0 1231.1L1174.0 1231.2L1178.0 1231.4L1182.0 1231.6L1186.0 1231.7L1190.0 1231.9L1194.0 1232.0L1198.0 1232.2L1202.0 1232.4L1206.0 1232.5L1210.0 1232.6L1214.0 1232.7L1218.0 1232.7L1222.0 1232.7L1226.0 1232.7L1230.0 1232.7L1234.0 1232.7L1238.0 1232.7L1242.0 1232.7L1246.0 1232.7L1250.0 1232.7L1258.6 1231.6L1261.8 1233.1L1264.9 1233.1L1268.0 1232.2L1271.1 1232.8L1274.3 1232.8L1277.4 1233.3L1280.5 1233.6L1283.6 1232.4L1286.8 1232.3L1289.9 1234.1L1293.0 1233.3L1296.1 1234.0L1299.3 1232.5L1302.4 1233.3L1305.5 1233.9L1308.6 1232.9L1311.8 1234.3L1314.9 1234.3L1318.0 1232.5L1321.1 1232.5L1324.3 1233.5L1327.4 1234.3L1330.5 1233.2L1333.6 1232.9L1336.8 1233.3L1339.9 1232.5L1343.0 1232.9L1346.2 1233.4L1349.3 1233.5L1352.4 1233.0L1355.5 1233.0L1358.7 1233.0L1361.8 1233.5L1364.9 1233.2L1368.0 1232.7L1371.2 1234.4L1374.3 1233.8L1377.4 1234.0L1380.5 1233.1L1383.7 1234.7L1386.8 1234.5L1389.9 1233.0L1393.0 1233.5L1396.2 1234.3L1399.3 1234.3L1402.4 1234.8L1405.5 1233.8L1408.7 1234.5L1411.8 1234.1L1414.9 1233.2L1418.0 1233.7L1421.2 1234.1L1424.3 1233.9L1427.4 1233.1L1430.5 1233.2L1433.7 1232.0L1436.8 1232.4L1439.9 1233.4L1443.1 1232.6L1446.2 1232.1L1449.3 1232.8L1452.4 1233.1L1455.6 1233.0L1458.7 1232.3L1461.8 1232.4L1464.9 1232.5L1468.1 1233.0L1471.2 1232.4L1474.3 1232.1L1477.4 1232.3L1480.6 1231.5L1483.7 1231.7L1486.8 1233.1L1489.9 1233.8L1493.1 1233.1L1496.2 1232.9L1499.3 1232.5L1502.4 1233.3L1505.6 1234.4L1508.7 1234.0L1511.8 1233.4L1514.9 1234.0L1518.1 1232.7L1521.2 1233.2L1524.3 1234.0L1527.4 1233.2L1530.6 1232.9L1533.7 1232.5L1536.8 1233.0L1540.0 1233.8L1543.1 1231.8L1546.2 1233.3L1549.3 1233.3L1552.5 1233.4L1555.6 1233.0L1558.7 1233.1L1561.8 1232.5L1565.0 1232.5L1568.1 1232.2L1571.2 1231.4L1574.3 1232.9L1577.5 1232.3L1580.6 1231.5L1583.7 1232.0L1586.8 1231.9L1590.0 1231.6L1593.1 1231.5L1596.2 1231.8L1599.3 1231.8L1602.5 1231.7L1605.6 1231.3L1608.7 1230.4L1611.8 1230.7L1615.0 1230.5L1618.1 1231.2L1621.2 1231.7L1624.3 1231.4L1627.5 1231.4L1630.6 1231.3L1633.7 1230.1L1636.9 1231.2L1640.0 1230.7L1643.1 1229.4L1646.2 1229.1L1649.4 1228.9L1652.5 1230.3L1655.6 1229.1L1658.7 1228.7L1661.9 1229.6L1665.0 1228.9L1668.1 1228.2L1671.2 1228.3L1674.4 1228.8L1677.5 1228.0L1680.6 1228.1L1683.7 1228.8L1686.9 1228.2L1690.0 1227.8L1693.1 1227.9L1696.2 1226.9L1699.4 1227.5L1702.5 1227.5L1705.6 1226.9L1708.7 1226.6L1711.9 1228.1L1715.0 1227.2L1718.1 1226.5L1721.2 1227.2L1724.4 1227.5L1727.5 1225.8L1730.6 1225.7L1733.8 1225.9L1736.9 1227.0L1740.0 1225.8L1743.1 1226.8L1746.3 1226.8L1749.4 1226.4L1752.5 1225.8L1755.6 1227.2L1758.8 1226.8L1761.9 1226.2L1765.0 1225.6L1768.1 1226.4L1771.3 1225.8L1774.4 1226.0L1777.5 1225.3L1780.6 1225.7L1783.8 1224.4L1786.9 1224.7L1790.0 1225.9L1793.1 1225.6L1796.3 1224.3L1799.4 1225.2L1802.5 1223.9L1805.6 1225.1L1808.8 1224.7L1811.9 1224.0L1815.0 1223.6L1818.1 1223.1L1821.3 1224.8L1824.4 1223.0L1827.5 1224.6L1830.7 1224.8L1833.8 1224.0L1836.9 1223.2L1840.0 1224.5L1843.2 1224.7L1846.3 1224.1L1849.4 1223.6L1852.5 1223.3L1855.7 1223.2L1858.8 1222.9L1861.9 1223.8L1865.0 1223.3L1868.2 1222.7L1871.3 1222.5L1874.4 1223.6L1877.5 1222.8L1880.7 1223.2L1883.8 1222.8L1886.9 1223.8L1890.0 1223.8L1893.2 1221.9L1896.3 1222.2L1899.4 1222.4L1902.5 1223.6L1905.7 1223.1L1908.8 1222.2L1911.9 1221.8L1915.0 1222.7L1918.2 1222.9L1921.3 1223.0L1924.4 1221.8L1927.6 1222.8L1930.7 1222.3L1933.8 1221.7L1936.9 1222.6L1940.1 1220.9L1943.2 1221.7L1946.3 1220.3L1949.4 1220.3L1952.6 1221.7L1955.7 1220.1L1958.8 1221.0L1961.9 1220.6L1965.1 1220.9L1968.2 1219.8L1971.3 1219.6L1974.4 1219.3L1977.6 1220.4L1980.7 1219.9L1983.8 1220.7L1986.9 1220.6L1990.1 1219.1L1993.2 1220.0L1996.3 1219.1L1999.4 1219.0L2002.6 1219.1L2005.7 1220.8L2008.8 1220.7L2011.9 1220.7L2015.1 1219.6L2018.2 1219.9L2021.3 1220.1L2024.5 1219.1L2027.6 1219.3L2030.7 1218.5L2033.8 1218.0L2037.0 1218.2L2040.1 1219.3L2043.2 1218.6L2046.3 1219.2L2049.5 1218.2L2052.6 1217.8L2055.7 1218.7L2058.8 1218.7L2062.0 1217.0L2065.1 1218.2L2068.2 1217.0L2071.3 1216.8L2074.5 1218.0L2077.6 1216.1L2080.7 1216.2L2083.8 1217.4L2087.0 1216.1L2090.1 1215.7L2093.2 1216.0L2096.3 1216.4L2099.5 1217.6L2102.6 1216.5L2105.7 1218.1L2108.8 1216.9L2112.0 1218.0L2115.1 1217.8L2118.2 1216.5L2121.4 1216.3L2124.5 1216.6L2127.6 1215.8L2130.7 1216.8L2133.9 1215.5L2137.0 1215.3"/>
<path class="curve" stroke="#00ffff" d="M261.5 327.7L261.5 355.5L262.5 356.0L262.5 327.7L263.6 327.7L263.6 356.7L264.6 358.2L264.6 328.5L265.7 329.7L265.7 360.2L266.7 362.5L266.7 330.7L267.8 331.5L267.8 365.0L268.8 367.5L268.8 332.0L269.8 332.2L269.8 370.5L270.9 370.5L270.9 332.2L271.9 332.0L271.9 362.7L273.0 353.5L273.0 331.5L274.0 330.7L274.0 351.7L275.0 350.7L275.0 329.5L276.1 326.0L276.1 350.2L277.1 350.0L277.1 318.2L278.2 311.5L278.2 339.0L279.2 336.7L279.2 312.7L280.3 316.7L280.3 335.7L281.3 335.2L281.3 320.5L282.3 322.5L282.3 334.7L283.4 334.7L283.4 323.5L284.4 324.5L284.4 334.5L285.5 334.5L285.5 325.0L286.5 325.2L286.5 334.5L287.5 334.5L287.5 325.2L288.6 325.2L288.6 334.5L289.6 334.5L289.6 324.5L290.7 323.7L290.7 334.5L291.7 334.7L291.7 322.5L292.8 318.7L292.8 334.7L293.8 335.0L293.8 312.2L294.8 307.0L294.8 335.5L295.9 336.7L295.9 306.2L296.9 305.5L296.9 339.0L298.0 344.5L298.0 304.5L299.0 302.2L299.0 344.2L300.1 329.0L300.1 296.2L301.1 258.7L301.1 320.7L302.1 319.5L302.1 258.7L303.2 258.5L303.2 318.5L304.2 317.7L304.2 258.5L305.3 258.0L305.3 317.2L306.3 316.5L306.3 257.2L307.3 256.0L307.3 315.7L308.4 315.2L308.4 251.7L309.4 233.0L309.4 314.2L310.5 313.7L310.5 219.7L311.5 220.0L311.5 313.2L312.6 313.2L312.6 229.0L313.6 239.7L313.6 313.0L314.6 313.2L314.6 246.2L315.7 248.5L315.7 313.5L316.7 313.5L316.7 250.2L317.8 251.7L317.8 313.7L318.8 313.7L318.8 252.7L319.8 253.2L319.8 314.0L320.9 314.5L320.9 253.7L321.9 253.7L321.9 315.0L323.0 316.0L323.0 253.7L324.0 253.2L324.0 318.2L325.1 324.0L325.1 252.7L326.1 252.0L326.1 326.5L327.1 319.2L327.1 251.0L328.2 250.5L328.2 316.7L329.2 315.7L329.2 250.2L330.3 250.5L330.3 315.2L331.3 315.0L331.3 251.2L332.4 252.7L332.4 315.0L333.4 315.0L333.4 254.0L334.4 255.7L334.4 315.5L335.5 316.2L335.5 257.2L336.5 258.5L336.5 317.5L337.6 320.2L337.6 259.5L338.6 260.2L338.6 323.2L339.6 322.0L339.6 260.7L340.7 261.0L340.7 275.5L341.7 273.2L341.7 261.0L342.8 260.7L342.8 272.2L343.8 271.7L343.8 260.2L344.9 259.2L344.9 271.2L345.9 271.2L345.9 257.7L346.9 255.7L346.9 271.2L348.0 271.5L348.0 255.0L349.0 255.2L349.0 272.0L350.1 272.7L350.1 259.2L351.1 263.2L351.1 274.2L352.1 277.0L352.1 268.0L353.2 270.7L353.2 280.0L354.2 282.7L354.2 273.5L355.3 276.2L355.3 285.7L356.3 288.5L356.3 279.2L357.4 282.7L357.4 291.5L358.4 293.2L358.4 287.0L359.4 290.5L359.4 295.0L360.5 296.7L360.5 293.7L361.5 297.0L361.5 299.5L362.6 304.5L362.6 300.2L363.6 303.7L363.6 310.7L364.7 312.5L364.7 308.7L365.7 311.7L365.7 313.7L366.7 315.0L366.7 313.0L367.8 314.0L367.8 316.2L368.8 317.0L368.8 314.5L369.9 315.0L369.9 317.7L370.9 318.2L370.9 315.5L371.9 316.0L371.9 318.7L373.0 319.2L373.0 316.5L374.0 317.0L374.0 320.0L375.1 320.5L375.1 317.5L376.1 318.0L376.1 320.7L377.2 320.7L377.2 318.2L378.2 318.2L378.2 320.7L379.2 320.7L379.2 318.5L380.3 318.5L380.3 320.7L381.3 321.0L381.3 318.5L382.4 318.7L382.4 321.0L383.4 321.5L383.4 319.2L384.4 319.5L384.4 322.2L385.5 323.2L385.5 319.7L386.5 320.2L386.5 325.2L387.6 328.0L387.6 320.7L388.6 321.5L388.6 331.5L389.7 334.2L389.7 322.5L390.7 323.5L390.7 337.0L391.7 338.7L391.7 324.2L392.8 325.0L392.8 339.7L393.8 340.0L393.8 325.5L394.9 325.5L394.9 340.0L395.9 340.0L395.9 325.7L397.0 326.2L397.0 340.0L398.0 340.0L398.0 327.7L399.0 329.2L399.0 340.0L400.1 340.0L400.1 330.5L401.1 332.0L401.1 340.0L402.2 340.2L402.2 333.0L403.2 333.5L403.2 340.2L404.2 340.5L404.2 333.7L405.3 334.0L405.3 340.7L406.3 341.0L406.3 334.0L407.4 334.0L407.4 341.2L408.4 341.2L408.4 334.5L409.5 335.7L409.5 341.5L410.5 342.0L410.5 337.2L411.5 338.5L411.5 342.5L412.6 343.2L412.6 340.0L413.6 341.7L413.6 344.2L414.7 345.0L414.7 344.0L415.7 345.8L416.7 346.7L417.8 347.7L418.8 348.5L419.9 349.3L420.9 350.5L422.0 351.2L423.0 352.2L424.0 352.5L424.0 354.5L425.1 356.7L425.1 352.5L426.1 352.5L426.1 359.5L427.2 359.2L427.2 352.5L428.2 352.2L428.2 358.5L429.3 357.2L429.3 352.2L430.3 352.0L430.3 356.0L431.3 354.5L431.3 352.0L432.4 351.5L432.4 353.5L433.4 353.0L433.4 351.0L434.5 350.2L434.5 352.5L435.5 352.2L435.5 349.0L436.5 347.2L436.5 352.0L437.6 351.7L437.6 345.2L438.6 343.7L438.6 351.5L439.7 351.2L439.7 344.0L440.7 344.2L440.7 351.2L441.8 351.2L441.8 344.7L442.8 345.0L442.8 351.5L443.8 351.7L443.8 345.2L444.9 345.5L444.9 352.2L445.9 352.5L445.9 346.0L447.0 346.2L447.0 353.0L448.0 353.2L448.0 346.5L449.0 346.7L449.0 353.5L450.1 354.0L450.1 346.5L451.1 346.5L451.1 354.2L452.2 354.5L452.2 350.0L453.2 353.2L453.2 354.7L454.3 356.5L455.3 359.5L456.3 361.2L457.4 362.2L458.4 363.0L459.5 363.2L460.5 363.2L461.6 363.5L461.6 364.7L462.6 367.5L462.6 363.5L463.6 363.5L463.6 370.5L464.7 370.5L464.7 363.5L465.7 363.5L465.7 370.5L466.8 370.5L466.8 363.7L467.8 364.7L467.8 370.5L468.8 370.7L468.8 365.7L469.9 366.7L469.9 371.0L470.9 371.5L470.9 368.0L472.0 369.0L472.0 372.2L473.0 373.2L473.0 370.2L474.1 371.5L474.1 374.2L475.1 375.2L475.1 372.7L476.1 374.2L476.1 376.5L477.2 377.5L477.2 375.7L478.2 377.2L478.2 378.5L479.3 379.5L479.3 378.5L480.3 380.1L481.3 381.2L482.4 381.7L482.4 383.0L483.4 384.2L483.4 382.5L484.5 382.5L484.5 385.2L485.5 386.5L485.5 382.5L486.6 382.2L486.6 386.2L487.6 385.5L487.6 381.7L488.6 381.0L488.6 385.0L489.7 384.0L489.7 380.0L490.7 379.2L490.7 383.5L491.8 383.0L491.8 378.5L492.8 377.7L492.8 383.0L493.9 383.0L493.9 377.0L494.9 377.0L494.9 383.2L495.9 383.7L495.9 377.5L497.0 378.0L497.0 384.0L498.0 384.5L498.0 378.2L499.1 378.7L499.1 385.0L500.1 385.5L500.1 381.2L501.1 383.7L501.1 386.0L502.2 386.7L503.2 389.2L504.3 391.2L505.3 392.5L506.4 393.2L507.4 394.2L508.4 395.0L509.5 395.7L510.5 398.0L511.6 400.7L512.6 403.2L513.6 406.2L514.7 407.5L515.7 408.2L516.8 409.0L517.8 409.7L518.9 410.2L519.9 411.6L520.9 414.7L520.9 411.7L522.0 412.5L522.0 417.2L523.0 418.2L523.0 413.2L524.1 414.0L524.1 419.0L525.1 419.7L525.1 414.7L526.2 415.7L526.2 420.5L527.2 421.2L527.2 416.5L528.2 417.2L528.2 421.7L529.3 422.5L529.3 418.0L530.3 419.5L530.3 423.2L531.4 424.2L531.4 421.2L532.4 423.5L532.4 425.0L533.4 425.5L534.5 427.0L535.5 428.2L536.6 429.0L537.6 429.6L538.7 429.7L538.7 431.5L539.7 433.2L539.7 429.7L540.7 430.5L540.7 435.0L541.8 436.7L541.8 433.5L542.8 437.0L543.9 438.7L544.9 440.0L545.9 440.5L547.0 441.2L548.0 442.0L549.1 442.7L550.1 448.2L550.1 446.7L551.2 453.7L552.2 457.7L553.2 460.2L554.3 462.5L555.3 464.5L556.4 465.7L557.4 466.7L558.5 467.5L559.5 468.2L560.5 469.2L561.6 470.0L561.6 472.0L562.6 474.2L562.6 470.7L563.7 473.2L563.7 474.7L564.7 475.2L565.7 477.2L566.8 478.5L567.8 479.5L568.9 480.2L569.9 481.5L571.0 482.2L572.0 483.2L573.0 484.2L574.1 485.0L575.1 486.0L576.2 486.2L576.2 487.5L577.2 488.5L577.2 486.5L578.2 487.0L578.2 489.5L579.3 490.5L579.3 487.7L580.3 489.2L580.3 491.5L581.4 492.7L581.4 490.5L582.4 492.2L582.4 493.7L583.5 495.2L583.5 493.5L584.5 494.7L584.5 498.5L585.5 502.0L585.5 495.7L586.6 496.2L586.6 505.5L587.6 510.0L587.6 496.5L588.7 496.7L588.7 513.5L589.7 515.0L589.7 496.7L590.8 496.7L590.8 516.2L591.8 517.7L591.8 496.7L592.8 496.7L592.8 519.0L593.9 520.5L593.9 496.7L594.9 497.0L594.9 521.7L596.0 522.7L596.0 497.5L597.0 498.0L597.0 523.7L598.0 525.0L598.0 498.5L599.1 501.7L599.1 528.0L600.1 535.7L600.1 505.2L601.2 514.2L601.2 535.7L602.2 535.7L602.2 516.7L603.3 518.0L603.3 535.7L604.3 535.7L604.3 518.7L605.3 519.2L605.3 535.7L606.4 535.7L606.4 519.2L607.4 519.5L607.4 536.0L608.5 536.0L608.5 519.5L609.5 519.5L609.5 536.2L610.5 536.7L610.5 519.2L611.6 519.2L611.6 537.7L612.6 540.0L612.6 518.7L613.7 518.2L613.7 543.0L614.7 541.7L614.7 517.2L615.8 515.7L615.8 536.7L616.8 531.7L616.8 514.2L617.8 512.7L617.8 529.5L618.9 528.5L618.9 510.2L619.9 508.2L619.9 527.7L621.0 527.0L621.0 505.7L622.0 497.7L622.0 526.5L623.1 526.0L623.1 491.0L624.1 491.0L624.1 525.2L625.1 524.7L625.1 495.0L626.2 498.7L626.2 524.0L627.2 523.2L627.2 500.0L628.3 500.7L628.3 522.7L629.3 522.0L629.3 501.2L630.3 501.2L630.3 521.5L631.4 521.0L631.4 501.2L632.4 501.0L632.4 521.0L633.5 521.0L633.5 500.5L634.5 499.5L634.5 521.2L635.6 521.7L635.6 498.5L636.6 498.2L636.6 522.2L637.6 522.7L637.6 498.2L638.7 498.0L638.7 523.0L639.7 522.5L639.7 497.7L640.8 497.2L640.8 522.2L641.8 521.7L641.8 496.2L642.8 494.5L642.8 521.5L643.9 521.0L643.9 488.5L644.9 485.5L644.9 521.0L646.0 521.0L646.0 487.2L647.0 490.2L647.0 521.0L648.1 521.2L648.1 493.2L649.1 496.0L649.1 521.5L650.1 521.7L650.1 497.2L651.2 498.2L651.2 522.0L652.2 522.0L652.2 499.2L653.3 500.0L653.3 522.0L654.3 522.0L654.3 500.5L655.4 500.7L655.4 522.0L656.4 522.0L656.4 501.0L657.4 501.0L657.4 522.0L658.5 522.0L658.5 501.2L659.5 501.2L659.5 522.0L660.6 522.0L660.6 501.5L661.6 501.5L661.6 522.0L662.6 521.7L662.6 501.5L663.7 501.5L663.7 521.0L664.7 520.2L664.7 501.2L665.8 500.7L665.8 518.5L666.8 514.2L666.8 499.7L667.9 498.5L667.9 504.5L668.9 502.2L668.9 496.0L669.9 494.0L669.9 501.0L671.0 500.5L671.0 490.7L672.0 484.0L672.0 500.2L673.1 500.2L673.1 479.7L674.1 482.2L674.1 500.2L675.1 500.2L675.1 487.0L676.2 488.2L676.2 500.5L677.2 500.5L677.2 489.0L678.3 489.5L678.3 500.5L679.3 500.7L679.3 489.7L680.4 489.7L680.4 500.7L681.4 501.0L681.4 489.7L682.4 489.5L682.4 501.0L683.5 501.0L683.5 489.2L684.5 489.0L684.5 501.2L685.6 501.5L685.6 489.0L686.6 490.2L686.6 501.7L687.7 502.2L687.7 492.0L688.7 493.7L688.7 503.0L689.7 504.2L689.7 495.0L690.8 495.7L690.8 505.5L691.8 507.0L691.8 496.2L692.9 496.5L692.9 508.7L693.9 510.0L693.9 496.7L694.9 496.7L694.9 511.5L696.0 512.7L696.0 496.7L697.0 496.7L697.0 514.0L698.1 515.7L698.1 496.7L699.1 496.5L699.1 518.7L700.2 520.7L700.2 496.2L701.2 495.7L701.2 521.0L702.2 520.7L702.2 495.0L703.3 493.7L703.3 513.0L704.3 501.2L704.3 489.5L705.4 480.0L705.4 491.7L706.4 489.2L706.4 474.5L707.4 470.0L707.4 488.2L708.5 487.7L708.5 470.5L709.5 473.5L709.5 487.5L710.6 487.5L710.6 475.5L711.6 477.0L711.6 487.5L712.7 488.0L712.7 479.0L713.7 480.0L713.7 488.7L714.7 490.0L714.7 480.5L715.8 480.7L715.8 491.7L716.8 494.5L716.8 480.7L717.9 480.7L717.9 498.7L718.9 501.7L718.9 480.2L720.0 479.7L720.0 505.0L721.0 508.5L721.0 478.7L722.0 476.5L722.0 512.0L723.1 515.5L723.1 472.5L724.1 472.5L724.1 519.7L725.2 523.2L725.2 472.5L726.2 472.2L726.2 526.0L727.2 527.7L727.2 472.0L728.3 471.5L728.3 528.0L729.3 527.5L729.3 470.7L730.4 468.7L730.4 525.7L731.4 514.5L731.4 455.5L732.5 429.7L732.5 493.5L733.5 491.2L733.5 429.2L734.5 429.0L734.5 490.2L735.6 489.7L735.6 428.5L736.6 427.5L736.6 489.2L737.7 489.0L737.7 426.5L738.7 424.7L738.7 488.7L739.7 488.7L739.7 424.7L740.8 428.0L740.8 488.5L741.8 488.5L741.8 438.2L742.9 449.5L742.9 488.5L743.9 489.0L743.9 466.0L745.0 472.2L745.0 489.7L746.0 491.0L746.0 473.5L747.0 474.5L747.0 493.2L748.1 494.5L748.1 475.0L749.1 475.2L749.1 494.5L750.2 494.7L750.2 475.7L751.2 476.7L751.2 494.7L752.3 495.2L752.3 482.7L753.3 489.5L753.3 496.0L754.3 497.0L755.4 505.2L761.9 573.5L766.8 614.9L771.0 670.7L774.7 698.3L777.5 700.2L780.2 744.4L780.5 748.4L780.8 752.4L781.1 756.4L781.4 760.4L781.7 764.4L782.0 768.4L782.3 772.4L782.6 776.3L782.9 780.3L783.2 784.3L783.5 788.3L783.7 792.3L784.0 796.3L784.3 800.3L784.6 804.3L784.9 808.3L785.2 812.3L785.6 816.3L786.0 820.2L786.6 824.2L787.3 828.1L788.0 832.1L788.7 836.0L789.2 840.0L789.6 844.0L790.0 848.0L790.4 851.9L790.7 855.9L791.0 859.9L791.3 863.9L791.7 867.9L792.0 871.9L792.3 875.9L792.7 879.9L793.0 883.9L793.4 887.9L793.7 891.8L794.1 895.8L794.5 899.8L794.8 903.8L795.2 907.8L795.5 911.8L795.9 915.8L796.2 919.7L796.6 923.7L796.9 927.7L797.2 931.7L797.6 935.7L797.9 939.7L798.2 943.7L798.5 947.7L798.8 951.7L799.1 955.7L799.4 959.6L799.7 963.6L800.0 967.6L800.2 971.6L800.5 975.6L800.9 979.6L801.2 983.6L801.7 987.6L802.1 991.5L802.6 995.5L803.1 999.5L803.5 1003.5L804.0 1007.5L804.4 1011.4L804.9 1015.4L805.3 1019.4L805.8 1023.4L806.2 1027.3L806.7 1031.3L807.1 1035.3L807.6 1039.3L808.0 1043.2L808.5 1047.2L808.9 1051.2L809.4 1055.2L809.8 1059.2L810.2 1063.1L810.7 1067.1L811.1 1071.1L811.6 1075.1L812.1 1079.0L812.6 1083.0L813.2 1087.0L813.8 1090.9L814.5 1094.9L815.1 1098.8L815.6 1102.8L816.2 1106.8L816.8 1110.7L817.4 1114.7L818.0 1118.6L818.7 1122.6L819.4 1126.5L820.1 1130.5L820.8 1134.4L821.5 1138.3L822.2 1142.3L822.9 1146.2L823.6 1150.2L824.3 1154.1L825.0 1158.0L825.6 1162.0L826.3 1165.9L827.0 1169.9L827.8 1173.8L828.6 1177.7L829.5 1181.6L830.4 1185.5L831.3 1189.4L832.2 1193.3L833.1 1197.2L834.1 1201.1L835.1 1205.0L836.1 1208.9L837.3 1212.7L838.7 1216.4L840.0 1220.2L841.1 1224.1L842.1 1227.9L843.0 1231.9L844.0 1235.7L845.2 1239.5L846.6 1243.3L848.1 1247.0L849.7 1250.7L851.3 1254.3L852.9 1258.0L854.4 1261.8L856.0 1265.6L857.5 1269.3L859.2 1273.0L860.9 1276.6L862.8 1280.0L864.9 1283.3L867.3 1286.4L870.0 1289.3L872.8 1292.2L875.8 1295.0L878.7 1297.8L881.5 1300.7L884.3 1303.6L887.1 1306.4L890.1 1309.1L893.2 1311.6L896.5 1314.0L899.8 1316.1L903.3 1318.1L906.8 1320.0L910.4 1321.8L913.9 1323.7L917.5 1325.5L921.1 1327.1L924.8 1328.7L928.6 1330.1L932.3 1331.6L936.1 1332.9L939.9 1334.2L943.7 1335.5L947.5 1336.7L951.3 1337.8L955.2 1338.9L959.0 1340.0L962.9 1340.9L966.8 1341.8L970.7 1342.6L974.7 1343.4L978.6 1344.1L982.5 1344.8L986.5 1345.5L990.4 1346.2L994.4 1346.8L998.4 1347.4L1002.3 1347.9L1006.3 1348.4L1010.3 1348.9L1014.2 1349.4L1018.2 1349.8L1022.2 1350.2L1026.2 1350.6L1030.2 1351.0L1034.1 1351.4L1038.1 1351.8L1042.1 1352.2L1046.1 1352.6L1050.1 1353.0L1054.1 1353.3L1058.1 1353.7L1062.0 1354.0L1066.0 1354.3L1070.0 1354.6L1074.0 1354.8L1078.0 1355.1L1082.0 1355.3L1086.0 1355.5L1090.0 1355.7L1094.0 1355.9L1098.0 1356.0L1102.0 1356.2L1106.0 1356.3L1110.0 1356.5L1114.0 1356.6L1118.0 1356.7L1122.0 1356.9L1126.0 1357.0L1130.0 1357.2L1134.0 1357.5L1138.0 1357.9L1142.0 1358.3L1146.0 1358.7L1149.9 1359.0L1153.9 1359.1L1157.9 1359.2L1161.9 1359.3L1165.9 1359.4L1169.9 1359.5L1173.9 1359.5L1178.0 1359.6L1182.0 1359.6L1186.0 1359.6L1190.0 1359.7L1194.0 1359.7L1198.0 1359.8L1202.0 1359.8L1206.0 1359.8L1210.0 1359.9L1214.0 1359.9L1218.0 1359.9L1222.0 1360.0L1226.0 1360.0L1230.0 1360.0L1234.0 1360.1L1238.0 1360.1L1242.0 1360.1L1246.0 1360.1L1250.0 1360.1L1258.6 1360.8L1261.8 1360.9L1264.9 1361.0L1268.0 1361.2L1271.1 1361.1L1274.3 1361.3L1277.4 1360.8L1280.5 1361.1L1283.6 1361.5L1286.8 1361.4L1289.9 1361.6L1293.0 1361.2L1296.1 1361.4L1299.3 1361.3L1302.4 1361.6L1305.5 1361.6L1308.6 1361.3L1311.8 1361.5L1314.9 1361.6L1318.0 1362.0L1321.1 1362.0L1324.3 1361.7L1327.4 1362.1L1330.5 1361.8L1333.6 1362.1L1336.8 1361.8L1339.9 1361.8L1343.0 1362.4L1346.2 1362.0L1349.3 1362.1L1352.4 1362.6L1355.5 1362.6L1358.7 1362.3L1361.8 1362.7L1364.9 1362.5L1368.0 1362.6L1371.2 1362.4L1374.3 1362.9L1377.4 1362.8L1380.5 1363.0L1383.7 1363.0L1386.8 1362.7L1389.9 1362.7L1393.0 1362.6L1396.2 1362.6L1399.3 1362.6L1402.4 1362.7L1405.5 1362.9L1408.7 1362.6L1411.8 1363.0L1414.9 1362.8L1418.0 1362.8L1421.2 1363.1L1424.3 1363.0L1427.4 1362.9L1430.5 1363.0L1433.7 1363.1L1436.8 1362.8L1439.9 1363.3L1443.1 1362.8L1446.2 1363.2L1449.3 1363.3L1452.4 1362.8L1455.6 1363.3L1458.7 1363.1L1461.8 1363.2L1464.9 1362.9L1468.1 1362.9L1471.2 1363.0L1474.3 1363.5L1477.4 1363.1L1480.6 1363.4L1483.7 1363.5L1486.8 1363.6L1489.9 1363.2L1493.1 1363.3L1496.2 1363.4L1499.3 1363.6L1502.4 1363.2L1505.6 1363.6L1508.7 1363.7L1511.8 1363.7L1514.9 1363.2L1518.1 1363.8L1521.2 1363.3L1524.3 1363.5L1527.4 1363.7L1530.6 1363.9L1533.7 1363.6L1536.8 1363.9L1540.0 1363.7L1543.1 1363.6L1546.2 1363.6L1549.3 1363.6L1552.5 1363.6L1555.6 1363.6L1558.7 1364.0L1561.8 1364.2L1565.0 1363.7L1568.1 1363.6L1571.2 1364.2L1574.3 1364.0L1577.5 1363.9L1580.6 1363.8L1583.7 1364.1L1586.8 1364.2L1590.0 1364.0L1593.1 1364.0L1596.2 1363.8L1599.3 1364.3L1602.5 1363.8L1605.6 1364.1L1608.7 1364.3L1611.8 1363.9L1615.0 1364.3L1618.1 1364.5L1621.2 1364.3L1624.3 1364.4L1627.5 1364.0L1630.6 1364.2L1633.7 1364.1L1636.9 1364.5L1640.0 1364.2L1643.1 1364.3L1646.2 1364.6L1649.4 1364.6L1652.5 1364.6L1655.6 1364.4L1658.7 1364.4L1661.9 1364.5L1665.0 1364.4L1668.1 1364.3L1671.2 1364.4L1674.4 1364.3L1677.5 1364.4L1680.6 1364.8L1683.7 1364.8L1686.9 1364.6L1690.0 1364.6L1693.1 1364.5L1696.2 1364.3L1699.4 1364.5L1702.5 1364.8L1705.6 1364.9L1708.7 1364.6L1711.9 1364.8L1715.0 1364.9L1718.1 1364.8L1721.2 1364.8L1724.4 1364.9L1727.5 1364.7L1730.6 1364.9L1733.8 1364.6L1736.9 1364.8L1740.0 1365.0L1743.1 1364.9L1746.3 1364.7L1749.4 1365.1L1752.5 1364.9L1755.6 1364.9L1758.8 1364.6L1761.9 1364.9L1765.0 1364.7L1768.1 1365.0L1771.3 1364.8L1774.4 1365.0L1777.5 1364.9L1780.6 1365.0L1783.8 1364.8L1786.9 1365.0L1790.0 1365.0L1793.1 1365.1L1796.3 1364.8L1799.4 1365.1L1802.5 1365.1L1805.6 1365.0L1808.8 1365.2L1811.9 1365.2L1815.0 1364.9L1818.1 1364.9L1821.3 1364.7L1824.4 1365.1L1827.5 1365.2L1830.7 1364.9L1833.8 1365.0L1836.9 1365.0L1840.0 1365.0L1843.2 1364.7L1846.3 1365.1L1849.4 1365.0L1852.5 1365.0L1855.7 1364.9L1858.8 1365.0L1861.9 1365.1L1865.0 1365.0L1868.2 1365.0L1871.3 1364.6L1874.4 1364.7L1877.5 1364.9L1880.7 1365.0L1883.8 1364.8L1886.9 1365.0L1890.0 1365.0L1893.2 1364.7L1896.3 1364.9L1899.4 1364.8L1902.5 1364.7L1905.7 1364.7L1908.8 1364.8L1911.9 1364.7L1915.0 1364.8L1918.2 1364.7L1921.3 1364.9L1924.4 1364.9L1927.6 1365.0L1930.7 1365.0L1933.8 1364.8L1936.9 1365.2L1940.1 1364.7L1943.2 1364.9L1946.3 1364.8L1949.4 1364.9L1952.6 1364.7L1955.7 1365.2L1958.8 1364.9L1961.9 1364.7L1965.1 1365.0L1968.2 1364.7L1971.3 1365.0L1974.4 1364.9L1977.6 1365.0L1980.7 1365.3L1983.8 1365.2L1986.9 1364.9L1990.1 1365.2L1993.2 1365.1L1996.3 1364.9L1999.4 1364.8L2002.6 1365.0L2005.7 1365.0L2008.8 1365.3L2011.9 1365.3L2015.1 1365.1L2018.2 1364.9L2021.3 1365.2L2024.5 1364.7L2027.6 1364.8L2030.7 1365.0L2033.8 1365.1L2037.0 1364.8L2040.1 1365.1L2043.2 1365.2L2046.3 1364.9L2049.5 1365.0L2052.6 1364.9L2055.7 1364.9L2058.8 1365.3L2062.0 1365.0L2065.1 1365.3L2068.2 1365.3L2071.3 1365.1L2074.5 1364.9L2077.6 1365.3L2080.7 1365.0L2083.8 1365.0L2087.0 1364.9L2090.1 1365.3L2093.2 1365.0L2096.3 1364.9L2099.5 1365.0L2102.6 1364.8L2105.7 1365.1L2108.8 1365.0L2112.0 1364.9L2115.1 1365.2L2118.2 1365.3L2121.4 1364.8L2124.5 1365.1L2127.6 1364.9L2130.7 1365.3L2133.9 1365.2L2137.0 1364.9"/>
</g>
<text class="tick" x="261.0" y="1541" text-anchor="middle">200</text>
<text class="tick" x="573.6" y="1541" text-anchor="middle">300</text>
<text class="tick" x="886.2" y="1541" text-anchor="middle">400</text>
<text class="tick" x="1198.8" y="1541" text-anchor="middle">500</text>
<text class="tick" x="1511.3" y="1541" text-anchor="middle">600</text>
<text class="tick" x="1823.9" y="1541" text-anchor="middle">700</text>
<text class="tick" x="2136.5" y="1541" text-anchor="middle">800</text>
<text class="tick" x="230" y="1388.2" text-anchor="end">0</text>
<text class="tick" x="230" y="1225.0" text-anchor="end">1</text>
<text class="tick" x="230" y="1061.8" text-anchor="end">2</text>
<text class="tick" x="230" y="898.6" text-anchor="end">3</text>
<text class="tick" x="230" y="735.4" text-anchor="end">4</text>
<text class="tick" x="230" y="572.2" text-anchor="end">5</text>
<text class="tick" x="230" y="409.0" text-anchor="end">6</text>
<text class="tick" x="230" y="245.8" text-anchor="end">7</text>
<text class="tick" x="230" y="82.6" text-anchor="end">8</text>
<text x="1197" y="1702.4" text-anchor="middle" font-size="111">Wavelength, nm</text>
<text transform="translate(113.6 834.2) rotate(-90)" text-anchor="middle" font-size="125">F(R)</text>
<line x1="1351" x2="1585" y1="209" y2="209" stroke="#000000" stroke-width="12" stroke-linecap="round" shape-rendering="crispEdges"/>
<text class="leg" x="1610" y="241">BC/Ce-300</text>
<line x1="1351" x2="1585" y1="321.6" y2="321.6" stroke="#ff0000" stroke-width="12" stroke-linecap="round" shape-rendering="crispEdges"/>
<text class="leg" x="1610" y="352.2">BC/Ce-350</text>
<line x1="1351" x2="1585" y1="433.8" y2="433.8" stroke="#00ff00" stroke-width="12" stroke-linecap="round" shape-rendering="crispEdges"/>
<text class="leg" x="1610" y="464.8">BC/Ce-400</text>
<line x1="1351" x2="1585" y1="545.6" y2="545.6" stroke="#0000ff" stroke-width="12" stroke-linecap="round" shape-rendering="crispEdges"/>
<text class="leg" x="1610" y="577">BC/Ce-500</text>
<line x1="1351" x2="1585" y1="658.2" y2="658.2" stroke="#00ffff" stroke-width="12" stroke-linecap="round" shape-rendering="crispEdges"/>
<text class="leg" x="1610" y="689.2">CeO<tspan font-size="54" dy="36">2</tspan></text>
</svg>
</body>
</html>
